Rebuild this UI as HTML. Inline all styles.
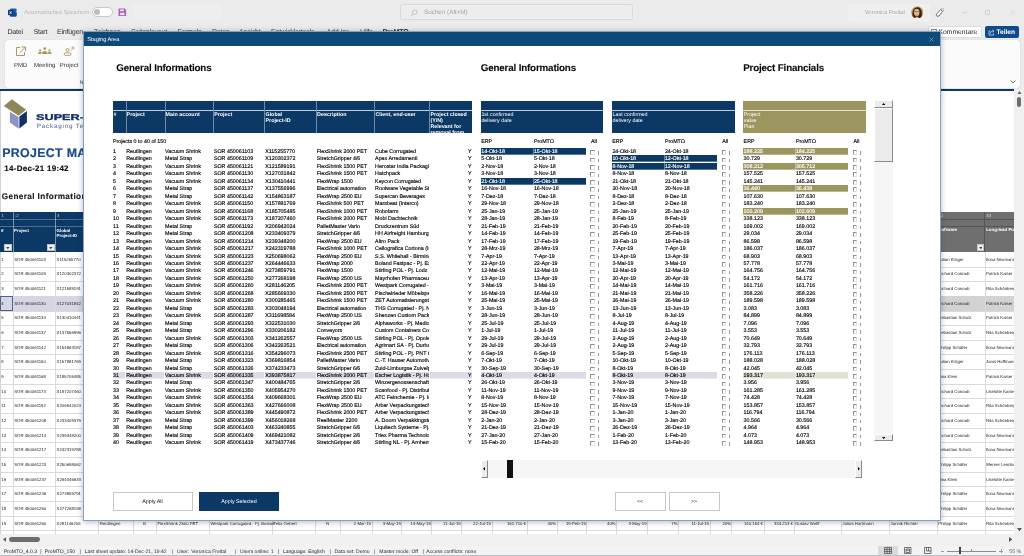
<!DOCTYPE html>
<html><head><meta charset="utf-8"><title>Staging Area</title>
<style>
*{box-sizing:border-box;margin:0;padding:0}
html,body{width:1024px;height:556px;overflow:hidden;background:#ebebeb;font-family:"Liberation Sans",sans-serif;text-rendering:geometricPrecision;}
body{position:relative}
.a{position:absolute;white-space:nowrap;overflow:hidden}
.t{position:absolute;white-space:nowrap;line-height:1}
/* excel chrome */
.mn{font-size:7.1px;letter-spacing:-.26px;color:#333;top:29.4px}
/* dialog */
#dlg{position:absolute;left:84px;top:32.2px;width:856px;height:487.5px;background:#fff;box-shadow:0 0 0 1px #8aa0c0,0 1px 6px 1px rgba(40,60,90,.36);}
#dlg .tb{position:absolute;left:0;top:0;width:100%;height:14.3px;background:#0d4a7a;color:#fff;font-size:5.6px;line-height:17px;padding-left:3.3px}
.h1{font-weight:bold;font-size:9.8px;letter-spacing:-.17px;color:#0a0a0a;-webkit-text-stroke:.1px #0a0a0a}
.hd{position:absolute;top:68.5px;height:32.1px;overflow:hidden;color:#fff;font-size:5.33px;line-height:6px;}
.hd:before{content:"";position:absolute;left:0;right:0;top:9.6px;height:.6px;background:rgba(255,255,255,.75)}
.hd span{position:absolute;left:.5px;top:11.3px;white-space:pre}
.hb{font-weight:bold}
.r{position:absolute;left:0;height:7.47px;font-size:5.33px;line-height:9px;color:#000;white-space:nowrap;-webkit-text-stroke:.14px currentColor}
.c{position:absolute;top:0;height:7.47px;overflow:hidden;white-space:nowrap;padding-left:.3px;background-repeat:no-repeat;background-size:100% 6.7px}
.sel .c{background-image:linear-gradient(#dcdce8,#dcdce8)}
.nv{background-image:linear-gradient(#0b3864,#0b3864) !important;color:#fff}
.kh{background-image:linear-gradient(#9c9560,#9c9560) !important;color:#fff}
.dv{box-shadow:inset 1px 0 rgba(255,255,255,.38)}
.pk{background-image:linear-gradient(#e2e2d4,#e2e2d4) !important}
.cb{position:absolute;width:4.6px;height:4.6px;border:.6px solid #909090;border-right-color:#e4e4e4;border-bottom-color:#e4e4e4;background:#fff;top:2.1px}
.ar{position:absolute;top:3.2px;width:1px;height:3.5px;background:#9a95aa}
.btn{position:absolute;top:459.9px;height:18.9px;border:.6px solid #c6c6c6;background:#fff;font-size:5.33px;line-height:18.6px;text-align:center;color:#111}
/* sheet */
.sh{font-size:4.3px;color:#222;line-height:1}
.gl{position:absolute;background:#dadada}
</style></head><body>

<div class="a" style="left:0;top:0;width:1024px;height:24px;background:#ebebeb"></div>
<svg class="a" style="left:7.5px;top:7.5px" width="9" height="9" viewBox="0 0 18 18"><rect x="4" y="1" width="13" height="16" rx="1.5" fill="#1d62ae"/><rect x="4" y="9" width="13" height="8" rx="1.5" fill="#134a8e"/><rect x="0" y="3.500" width="11" height="11" rx="1.5" fill="#0d3c78"/><text x="5" y="12" font-size="8" font-weight="bold" fill="#fff" text-anchor="middle" font-family="Liberation Sans, sans-serif">X</text></svg>
<div class="t" style="left:24.2px;top:11px;font-size:5.75px;color:#b8b8b8">Automatisches Speichern</div>
<div class="a" style="left:92px;top:7.1px;width:20.8px;height:9.8px;border-radius:5px;background:#fff;border:.7px solid #c8c8c8"></div>
<div class="a" style="left:94px;top:9.1px;width:5.8px;height:5.8px;border-radius:3px;background:#bcbcbc"></div>
<svg class="a" style="left:118px;top:7.8px" width="8.6" height="8.6" viewBox="0 0 18 18"><path d="M1 2a1 1 0 0 1 1-1h12l3 3v12a1 1 0 0 1-1 1H2a1 1 0 0 1-1-1z" fill="#b25cc2"/><rect x="4.500" y="3" width="8" height="3.600" fill="#f0e4f4"/><rect x="4.500" y="10" width="9" height="5" fill="#f0e4f4"/></svg>
<div class="a" style="left:133px;top:3.5px;width:88.3px;height:15px;background:#eeeeee;border-radius:2px"></div>
<div class="a" style="left:400px;top:4px;width:232.5px;height:15.5px;background:#ededed;border:.6px solid #dadada;border-radius:2px"></div>
<svg class="a" style="left:409.8px;top:8.6px" width="8" height="8" viewBox="0 0 16 16"><circle cx="9.5" cy="6.5" r="4.5" fill="none" stroke="#b0b0b0" stroke-width="1.3"/><path d="M6.2 9.8L1.5 14.5" stroke="#b0b0b0" stroke-width="1.4"/></svg>
<div class="t" style="left:424px;top:10.3px;font-size:6.3px;color:#a4a4a4">Suchen (Alt+M)</div>
<div class="a" style="left:848px;top:4px;width:82px;height:17.5px;background:#efefef;border-radius:2px"></div>
<div class="t" style="left:864.8px;top:10.6px;font-size:5.75px;color:#a6a6a6">Veronica Freital</div>
<svg class="a" style="left:910.6px;top:5.7px" width="12.6" height="12.6" viewBox="0 0 26 26"><defs><clipPath id="av"><circle cx="13" cy="13" r="12.7"/></clipPath></defs><g clip-path="url(#av)"><rect width="26" height="26" fill="#c9a268"/><path d="M4 26C1 14 4 3 13 2.500C21 2 25 12 21 26z" fill="#3a2618"/><ellipse cx="11.800" cy="13.500" rx="5.600" ry="7.600" fill="#e6b48c"/><path d="M5.500 11.500h12" stroke="#6a5a52" stroke-width="1.300"/><path d="M8 26c1-5 7-5 9 0z" fill="#e0a878"/><path d="M9 18.500q2.500 1.500 5 0" stroke="#c4553a" stroke-width="1.200" fill="none"/></g></svg>
<svg class="a" style="left:934.8px;top:7.8px" width="9" height="9" viewBox="0 0 18 18"><path d="M2.500 14.500l1.500 2 4-.5 7-9.500-4-3.500-7 8.500z" fill="#fff" stroke="#3a3a3a" stroke-width="1.400" stroke-linejoin="round"/><circle cx="13.500" cy="1.600" r="1.100" fill="#5a9ee0"/><circle cx="16.500" cy="1.600" r="1.100" fill="#5a9ee0"/><circle cx="16.500" cy="4.800" r="1.100" fill="#5a9ee0"/></svg>
<div class="a" style="left:961.8px;top:11.6px;width:5px;height:.7px;background:#d2d2d2"></div>
<div class="a" style="left:985.4px;top:9.8px;width:5px;height:5px;border:.6px solid #cdcdcd;border-radius:1.3px"></div>
<svg class="a" style="left:1009.6px;top:9.6px" width="5.4" height="5.4" viewBox="0 0 12 12"><path d="M1 1l10 10M11 1L1 11" stroke="#cbcbcb" stroke-width="1.3"/></svg>
<div class="t mn" style="left:7.5px">Datei</div>
<div class="t mn" style="left:33.5px">Start</div>
<div class="t mn" style="left:57px">Einfügen</div>
<div class="t mn" style="left:93.5px">Zeichnen</div>
<div class="t mn" style="left:131px">Seitenlayout</div>
<div class="t mn" style="left:177.5px">Formeln</div>
<div class="t mn" style="left:212px">Daten</div>
<div class="t mn" style="left:239px">Ansicht</div>
<div class="t mn" style="left:271px">Entwicklertools</div>
<div class="t mn" style="left:326.5px">Add-Ins</div>
<div class="t mn" style="left:360px">Hilfe</div>
<div class="t mn" style="left:382.5px;font-weight:bold;color:#111">ProMTO</div>
<div class="a" style="left:928px;top:25.5px;width:53.5px;height:12px;background:#fff;border:.6px solid #dcdcdc;border-radius:2px"></div>
<svg class="a" style="left:931px;top:29.3px" width="6" height="6" viewBox="0 0 12 12"><path d="M1 1h10v7H5l-2 2V8H1z" fill="none" stroke="#333" stroke-width="1.2"/></svg>
<div class="t" style="left:938.5px;top:29.7px;font-size:6.75px;color:#222">Kommentare</div>
<div class="a" style="left:985px;top:25.5px;width:33.5px;height:12px;background:#0f4a8c;border-radius:2px"></div>
<svg class="a" style="left:987.5px;top:28.8px" width="7" height="7" viewBox="0 0 14 14"><path d="M5 4H2v8h9V9" fill="none" stroke="#fff" stroke-width="1.2"/><path d="M5 9c0-3 2-5 6-5M9 1.5L11.8 4 9 6.5" fill="none" stroke="#fff" stroke-width="1.2"/></svg>
<div class="t" style="left:996.5px;top:29.5px;font-size:6.6px;color:#fff;font-weight:bold">Teilen</div>
<div class="a" style="left:5px;top:39.5px;width:1014.5px;height:48px;background:#fbfbfb;border-radius:3px;box-shadow:0 0 1px rgba(0,0,0,.25)"></div>
<svg class="a" style="left:14.5px;top:45.5px" width="12" height="11" viewBox="0 0 24 22"><path d="M10 3H3v16h16v-7" fill="none" stroke="#a89a5c" stroke-width="2"/><path d="M13 2h8v8M21 2L10 13" fill="none" stroke="#a89a5c" stroke-width="2"/></svg>
<svg class="a" style="left:38px;top:46.8px" width="13.6" height="7.4" viewBox="0 0 27.2 14.8"><circle cx="13.6" cy="3.2" r="2.9" fill="#a89a5c"/><path d="M7.6 14.8c0-9 12-9 12 0z" fill="#a89a5c"/><circle cx="4.2" cy="6.6" r="2" fill="#a89a5c"/><circle cx="23" cy="6.6" r="2" fill="#a89a5c"/><path d="M0 14.8c0-6.4 6.4-6.6 7.4-4.2-.8 1-1.2 2.400-1.200 4.200z" fill="#a89a5c"/><path d="M27.2 14.8c0-6.4-6.400-6.600-7.400-4.200.8 1 1.200 2.400 1.200 4.200z" fill="#a89a5c"/></svg>
<svg class="a" style="left:63px;top:45.5px" width="13" height="11" viewBox="0 0 26 22"><circle cx="9.2" cy="8" r="3" fill="none" stroke="#a89a5c" stroke-width="1.8"/><rect x="2.400" y="13.8" width="13.6" height="5" rx="2.500" fill="none" stroke="#a89a5c" stroke-width="1.8"/><circle cx="20" cy="4.200" r="2.300" fill="none" stroke="#a89a5c" stroke-width="1.500"/><circle cx="16.6" cy="9.4" r="1.100" fill="#a89a5c"/></svg>
<div class="t" style="left:0.6000000000000014px;width:40px;text-align:center;top:63.3px;font-size:6px;color:#333">PMD</div>
<div class="t" style="left:24.700000000000003px;width:40px;text-align:center;top:63.3px;font-size:6px;color:#333">Meeting</div>
<div class="t" style="left:49.2px;width:40px;text-align:center;top:63.3px;font-size:6px;color:#333">Project</div>
<div class="t" style="left:79.8px;top:81.3px;font-size:5.2px;color:#333">Navigation</div>
<svg class="a" style="left:1009.5px;top:79.5px" width="6" height="4" viewBox="0 0 12 8"><path d="M1 1l5 5 5-5" fill="none" stroke="#333" stroke-width="1.4"/></svg>
<div class="a" style="left:0;top:88.8px;width:1014px;height:445px;background:#fff"></div>
<div class="a" style="left:0;top:88.8px;width:1014px;height:2.1px;background:#0b3864"></div>
<div class="a" style="left:0;top:91px;width:.9px;height:443px;background:#d2d2d2"></div>
<svg class="a" style="left:0;top:95px" width="84" height="40" viewBox="0 0 84 40"><polygon points="3.8,10.9 11.9,4.300 26.1,14.8 18.6,20.75" fill="#8e8658"/><polygon points="9.9,16.8 18.6,21.9 18.6,33.8 9.9,27.5" fill="#8d94c0"/><polygon points="19.4,21.5 26.9,16 26.9,27.5 19.4,33.6" fill="#10306a"/></svg>
<div class="t" style="left:36.1px;top:112.6px;font-size:8.4px;font-weight:bold;color:#12306a;-webkit-text-stroke:.35px #12306a;transform-origin:0 0;transform:scaleX(1.515)">SUPER-PACK</div>
<div class="t" style="left:36.7px;top:123.5px;font-size:6.3px;color:#4a5f98;letter-spacing:.8px">Packaging Technology</div>
<div class="t" style="left:2.3px;top:146.8px;font-size:12.4px;font-weight:bold;color:#1b4a88;letter-spacing:.3px;-webkit-text-stroke:.2px #1b4a88">PROJECT MANAGEMENT</div>
<div class="t" style="left:4.3px;top:165.1px;font-size:8px;letter-spacing:.27px;font-weight:bold;color:#111;-webkit-text-stroke:.15px #111">14-Dec-21 19:42</div>
<div class="t" style="left:1.8px;top:192.6px;font-size:8.2px;letter-spacing:.38px;font-weight:bold;color:#1a1a1a;-webkit-text-stroke:.15px #1a1a1a">General Information</div>
<div class="a" style="left:0;top:212px;width:84px;height:40px;background:#0b3864"></div>
<div class="a" style="left:0;top:219.4px;width:84px;height:.6px;background:rgba(255,255,255,.28)"></div>
<div class="a" style="left:0;top:225.8px;width:84px;height:.6px;background:rgba(255,255,255,.28)"></div>
<div class="a" style="left:12.7px;top:212px;width:.6px;height:40px;background:rgba(255,255,255,.45)"></div>
<div class="a" style="left:55.2px;top:212px;width:.6px;height:40px;background:rgba(255,255,255,.45)"></div>
<div class="t sh" style="left:1.5px;top:214px;color:#c8d4e4">1</div>
<div class="t sh" style="left:14px;top:214px;color:#c8d4e4">↓2</div>
<div class="t sh" style="left:57px;top:214px;color:#c8d4e4">3</div>
<div class="t sh" style="left:1px;top:227.6px;color:#fff;font-weight:bold;line-height:5.6px;font-size:4.4px">#</div>
<div class="t sh" style="left:14px;top:227.6px;color:#fff;font-weight:bold;line-height:5.6px;font-size:4.4px">Project</div>
<div class="t sh" style="left:56.5px;top:227.6px;color:#fff;font-weight:bold;line-height:5.6px;font-size:4.4px">Global<br>Project-ID</div>
<div class="a" style="left:4.4px;top:244.2px;width:7.6px;height:7.2px;background:#eeeeee;border:.5px solid #c4c4c4"></div>
<svg class="a" style="left:6.4px;top:247.0px" width="3.6" height="2.2" viewBox="0 0 8 5"><path d="M0 0h8L4 5z" fill="#444"/></svg>
<div class="a" style="left:47.4px;top:244.2px;width:7.6px;height:7.2px;background:#eeeeee;border:.5px solid #c4c4c4"></div>
<svg class="a" style="left:49.4px;top:247.0px" width="3.6" height="2.2" viewBox="0 0 8 5"><path d="M0 0h8L4 5z" fill="#444"/></svg>
<div class="gl" style="left:0;top:266.55px;width:1014px;height:.6px"></div>
<div class="gl" style="left:0;top:281.20px;width:1014px;height:.6px"></div>
<div class="gl" style="left:0;top:295.85px;width:1014px;height:.6px"></div>
<div class="a" style="left:0;top:296.15px;width:937px;height:14.65px;background:#d6d6e2"></div>
<div class="a" style="left:937px;top:296.15px;width:77.2px;height:14.65px;background:#d2d2d2"></div>
<div class="gl" style="left:0;top:310.50px;width:1014px;height:.6px"></div>
<div class="gl" style="left:0;top:325.15px;width:1014px;height:.6px"></div>
<div class="gl" style="left:0;top:339.80px;width:1014px;height:.6px"></div>
<div class="gl" style="left:0;top:354.45px;width:1014px;height:.6px"></div>
<div class="gl" style="left:0;top:369.10px;width:1014px;height:.6px"></div>
<div class="gl" style="left:0;top:383.75px;width:1014px;height:.6px"></div>
<div class="gl" style="left:0;top:398.40px;width:1014px;height:.6px"></div>
<div class="gl" style="left:0;top:413.05px;width:1014px;height:.6px"></div>
<div class="gl" style="left:0;top:427.70px;width:1014px;height:.6px"></div>
<div class="gl" style="left:0;top:442.35px;width:1014px;height:.6px"></div>
<div class="gl" style="left:0;top:457.00px;width:1014px;height:.6px"></div>
<div class="gl" style="left:0;top:471.65px;width:1014px;height:.6px"></div>
<div class="gl" style="left:0;top:486.30px;width:1014px;height:.6px"></div>
<div class="gl" style="left:0;top:500.95px;width:1014px;height:.6px"></div>
<div class="gl" style="left:0;top:515.60px;width:1014px;height:.6px"></div>
<div class="gl" style="left:0;top:530.25px;width:1014px;height:.6px"></div>
<div class="gl" style="left:0;top:544.90px;width:1014px;height:.6px"></div>
<div class="gl" style="left:12.7px;top:252.2px;width:.6px;height:281.8px"></div>
<div class="gl" style="left:55.2px;top:252.2px;width:.6px;height:281.8px"></div>
<div class="gl" style="left:98.3px;top:252.2px;width:.6px;height:281.8px"></div>
<div class="gl" style="left:132.8px;top:252.2px;width:.6px;height:281.8px"></div>
<div class="gl" style="left:156px;top:252.2px;width:.6px;height:281.8px"></div>
<div class="gl" style="left:209.2px;top:252.2px;width:.6px;height:281.8px"></div>
<div class="gl" style="left:272.2px;top:252.2px;width:.6px;height:281.8px"></div>
<div class="gl" style="left:315.4px;top:252.2px;width:.6px;height:281.8px"></div>
<div class="gl" style="left:339.6px;top:252.2px;width:.6px;height:281.8px"></div>
<div class="gl" style="left:371.5px;top:252.2px;width:.6px;height:281.8px"></div>
<div class="gl" style="left:401.4px;top:252.2px;width:.6px;height:281.8px"></div>
<div class="gl" style="left:431.3px;top:252.2px;width:.6px;height:281.8px"></div>
<div class="gl" style="left:461.2px;top:252.2px;width:.6px;height:281.8px"></div>
<div class="gl" style="left:491.7px;top:252.2px;width:.6px;height:281.8px"></div>
<div class="gl" style="left:526.6px;top:252.2px;width:.6px;height:281.8px"></div>
<div class="gl" style="left:556.5px;top:252.2px;width:.6px;height:281.8px"></div>
<div class="gl" style="left:586.3px;top:252.2px;width:.6px;height:281.8px"></div>
<div class="gl" style="left:616.2px;top:252.2px;width:.6px;height:281.8px"></div>
<div class="gl" style="left:647.1px;top:252.2px;width:.6px;height:281.8px"></div>
<div class="gl" style="left:678px;top:252.2px;width:.6px;height:281.8px"></div>
<div class="gl" style="left:709.6px;top:252.2px;width:.6px;height:281.8px"></div>
<div class="gl" style="left:731.4px;top:252.2px;width:.6px;height:281.8px"></div>
<div class="gl" style="left:763.6px;top:252.2px;width:.6px;height:281.8px"></div>
<div class="gl" style="left:793.5px;top:252.2px;width:.6px;height:281.8px"></div>
<div class="gl" style="left:841.2px;top:252.2px;width:.6px;height:281.8px"></div>
<div class="gl" style="left:889.3px;top:252.2px;width:.6px;height:281.8px"></div>
<div class="gl" style="left:937px;top:252.2px;width:.6px;height:281.8px"></div>
<div class="gl" style="left:984.5px;top:252.2px;width:.6px;height:281.8px"></div>
<div class="a" style="left:0;top:295.75px;width:13.3px;height:15.450000000000001px;border:.9px solid #4a628e"></div>
<div class="t sh" style="left:1.3px;top:257.80px">1</div>
<div class="t sh" style="left:14.2px;top:257.80px">SOR 450061103</div>
<div class="t sh" style="left:56.6px;top:257.80px">X115255770</div>
<div class="t sh" style="left:938.3px;top:257.80px">Julian Krüger</div>
<div class="a sh" style="left:986px;width:28px;top:257.80px">Ilona Neumann</div>
<div class="t sh" style="left:1.3px;top:272.45px">2</div>
<div class="t sh" style="left:14.2px;top:272.45px">SOR 450061109</div>
<div class="t sh" style="left:56.6px;top:272.45px">X120302372</div>
<div class="t sh" style="left:938.3px;top:272.45px">Richard Conradi</div>
<div class="a sh" style="left:986px;width:28px;top:272.45px">Patrick Kaiser</div>
<div class="t sh" style="left:1.3px;top:287.10px">3</div>
<div class="t sh" style="left:14.2px;top:287.10px">SOR 450061121</div>
<div class="t sh" style="left:56.6px;top:287.10px">X121589191</div>
<div class="t sh" style="left:938.3px;top:287.10px">Richard Conradi</div>
<div class="a sh" style="left:986px;width:28px;top:287.10px">Rita Schönberg</div>
<div class="t sh" style="left:1.3px;top:301.75px">4</div>
<div class="t sh" style="left:14.2px;top:301.75px">SOR 450061130</div>
<div class="t sh" style="left:56.6px;top:301.75px">X127031842</div>
<div class="t sh" style="left:938.3px;top:301.75px">Richard Conradi</div>
<div class="a sh" style="left:986px;width:28px;top:301.75px">Patrick Kaiser</div>
<div class="t sh" style="left:1.3px;top:316.40px">5</div>
<div class="t sh" style="left:14.2px;top:316.40px">SOR 450061134</div>
<div class="t sh" style="left:56.6px;top:316.40px">X130410441</div>
<div class="t sh" style="left:938.3px;top:316.40px">Sebastian Scholz</div>
<div class="a sh" style="left:986px;width:28px;top:316.40px">Patrick Kaiser</div>
<div class="t sh" style="left:1.3px;top:331.05px">6</div>
<div class="t sh" style="left:14.2px;top:331.05px">SOR 450061137</div>
<div class="t sh" style="left:56.6px;top:331.05px">X137556996</div>
<div class="t sh" style="left:938.3px;top:331.05px">Sebastian Scholz</div>
<div class="a sh" style="left:986px;width:28px;top:331.05px">Rita Schönberg</div>
<div class="t sh" style="left:1.3px;top:345.70px">7</div>
<div class="t sh" style="left:14.2px;top:345.70px">SOR 450061142</div>
<div class="t sh" style="left:56.6px;top:345.70px">X154863187</div>
<div class="t sh" style="left:938.3px;top:345.70px">Philipp Schäfer</div>
<div class="a sh" style="left:986px;width:28px;top:345.70px">Ilona Neumann</div>
<div class="t sh" style="left:1.3px;top:360.35px">8</div>
<div class="t sh" style="left:14.2px;top:360.35px">SOR 450061150</div>
<div class="t sh" style="left:56.6px;top:360.35px">X157881769</div>
<div class="t sh" style="left:938.3px;top:360.35px">Julian Krüger</div>
<div class="a sh" style="left:986px;width:28px;top:360.35px">Janis Hoffmann</div>
<div class="t sh" style="left:1.3px;top:375.00px">9</div>
<div class="t sh" style="left:14.2px;top:375.00px">SOR 450061168</div>
<div class="t sh" style="left:56.6px;top:375.00px">X185705485</div>
<div class="t sh" style="left:938.3px;top:375.00px">Lina Klein</div>
<div class="a sh" style="left:986px;width:28px;top:375.00px">Patrick Kaiser</div>
<div class="t sh" style="left:1.3px;top:389.65px">10</div>
<div class="t sh" style="left:14.2px;top:389.65px">SOR 450061173</div>
<div class="t sh" style="left:56.6px;top:389.65px">X187207460</div>
<div class="t sh" style="left:938.3px;top:389.65px">Richard Conradi</div>
<div class="a sh" style="left:986px;width:28px;top:389.65px">Liselotte Kaiser</div>
<div class="t sh" style="left:1.3px;top:404.30px">11</div>
<div class="t sh" style="left:14.2px;top:404.30px">SOR 450061192</div>
<div class="t sh" style="left:56.6px;top:404.30px">X206942024</div>
<div class="t sh" style="left:938.3px;top:404.30px">Richard Conradi</div>
<div class="a sh" style="left:986px;width:28px;top:404.30px">Rita Schönberg</div>
<div class="t sh" style="left:1.3px;top:418.95px">12</div>
<div class="t sh" style="left:14.2px;top:418.95px">SOR 450061208</div>
<div class="t sh" style="left:56.6px;top:418.95px">X233409379</div>
<div class="t sh" style="left:938.3px;top:418.95px">Richard Conradi</div>
<div class="a sh" style="left:986px;width:28px;top:418.95px">Rita Schönberg</div>
<div class="t sh" style="left:1.3px;top:433.60px">13</div>
<div class="t sh" style="left:14.2px;top:433.60px">SOR 450061214</div>
<div class="t sh" style="left:56.6px;top:433.60px">X239348200</div>
<div class="t sh" style="left:938.3px;top:433.60px">Richard Conradi</div>
<div class="a sh" style="left:986px;width:28px;top:433.60px">Ilona Neumann</div>
<div class="t sh" style="left:1.3px;top:448.25px">14</div>
<div class="t sh" style="left:14.2px;top:448.25px">SOR 450061217</div>
<div class="t sh" style="left:56.6px;top:448.25px">X242319788</div>
<div class="t sh" style="left:938.3px;top:448.25px">Sebastian Scholz</div>
<div class="a sh" style="left:986px;width:28px;top:448.25px">Ilona Neumann</div>
<div class="t sh" style="left:1.3px;top:462.90px">15</div>
<div class="t sh" style="left:14.2px;top:462.90px">SOR 450061223</div>
<div class="t sh" style="left:56.6px;top:462.90px">X250698062</div>
<div class="t sh" style="left:938.3px;top:462.90px">Philipp Schäfer</div>
<div class="a sh" style="left:986px;width:28px;top:462.90px">Werner Leimbach</div>
<div class="t sh" style="left:1.3px;top:477.55px">16</div>
<div class="t sh" style="left:14.2px;top:477.55px">SOR 450061237</div>
<div class="t sh" style="left:56.6px;top:477.55px">X264446633</div>
<div class="t sh" style="left:938.3px;top:477.55px">Lina Klein</div>
<div class="a sh" style="left:986px;width:28px;top:477.55px">Liselotte Kaiser</div>
<div class="t sh" style="left:1.3px;top:492.20px">17</div>
<div class="t sh" style="left:14.2px;top:492.20px">SOR 450061246</div>
<div class="t sh" style="left:56.6px;top:492.20px">X273859791</div>
<div class="t sh" style="left:938.3px;top:492.20px">Philipp Schäfer</div>
<div class="a sh" style="left:986px;width:28px;top:492.20px">Ilona Neumann</div>
<div class="t sh" style="left:1.3px;top:506.85px">18</div>
<div class="t sh" style="left:14.2px;top:506.85px">SOR 450061250</div>
<div class="t sh" style="left:56.6px;top:506.85px">X277268198</div>
<div class="t sh" style="left:938.3px;top:506.85px">Philipp Schäfer</div>
<div class="a sh" style="left:986px;width:28px;top:506.85px">Ilona Neumann</div>
<div class="t sh" style="left:1.3px;top:521.50px">19</div>
<div class="t sh" style="left:14.2px;top:521.50px">SOR 450061260</div>
<div class="t sh" style="left:56.6px;top:521.50px">X281146205</div>
<div class="t sh" style="left:938.3px;top:521.50px">Philipp Schäfer</div>
<div class="a sh" style="left:986px;width:28px;top:521.50px">Rita Schönberg</div>
<div class="t sh" style="left:99.8px;top:521.50px">Reutlingen</div>
<div class="t sh" style="left:157.5px;top:521.50px">FlexShrink 2500 PET</div>
<div class="t sh" style="left:210.4px;top:521.50px">Westpark Corrugated - Pj. Boston</div>
<div class="t sh" style="left:273.3px;top:521.50px">Felix Gebert</div>
<div class="t sh" style="left:795px;top:521.50px">Gustav Wolff</div>
<div class="t sh" style="left:842.6px;top:521.50px">Julius Hartmann</div>
<div class="t sh" style="left:890.6px;top:521.50px">Jannik Richter</div>
<div class="t sh" style="left:139.4px;width:10px;text-align:center;top:521.50px">B</div>
<div class="t sh" style="left:322.5px;width:10px;text-align:center;top:521.50px">N</div>
<div class="t sh" style="left:331px;width:40px;text-align:right;top:521.50px">2-Mar-19</div>
<div class="t sh" style="left:360.9px;width:40px;text-align:right;top:521.50px">3-May-19</div>
<div class="t sh" style="left:390.8px;width:40px;text-align:right;top:521.50px">14-May-19</div>
<div class="t sh" style="left:420.7px;width:40px;text-align:right;top:521.50px">11-Jul-19</div>
<div class="t sh" style="left:451px;width:40px;text-align:right;top:521.50px">22-Jul-19</div>
<div class="t sh" style="left:486px;width:40px;text-align:right;top:521.50px">161.710 €</div>
<div class="t sh" style="left:516px;width:40px;text-align:right;top:521.50px">40%</div>
<div class="t sh" style="left:545.8px;width:40px;text-align:right;top:521.50px">19-Feb-19</div>
<div class="t sh" style="left:575.7px;width:40px;text-align:right;top:521.50px">40%</div>
<div class="t sh" style="left:606.6px;width:40px;text-align:right;top:521.50px">3-May-19</div>
<div class="t sh" style="left:637.5px;width:40px;text-align:right;top:521.50px">7%</div>
<div class="t sh" style="left:669px;width:40px;text-align:right;top:521.50px">11-Jul-19</div>
<div class="t sh" style="left:691px;width:40px;text-align:right;top:521.50px">20%</div>
<div class="t sh" style="left:723px;width:40px;text-align:right;top:521.50px">140.154 €</div>
<div class="t sh" style="left:753px;width:40px;text-align:right;top:521.50px">334.213 €</div>
<div class="a" style="left:937px;top:212px;width:77.2px;height:40px;background:#6f6f6f"></div>
<div class="a" style="left:937px;top:219.4px;width:77.2px;height:.6px;background:#555"></div>
<div class="a" style="left:937px;top:225.8px;width:77.2px;height:.6px;background:#555"></div>
<div class="a" style="left:984.3px;top:212px;width:.6px;height:40px;background:#555"></div>
<div class="t sh" style="left:938.5px;top:214px;color:#d8d8d8">32</div><div class="t sh" style="left:986.3px;top:214px;color:#d8d8d8">33</div>
<div class="t sh" style="left:938.5px;top:227.8px;color:#fff;font-weight:bold;font-size:4.4px">Software</div><div class="a sh" style="left:986.2px;width:28px;top:227.8px;color:#fff;font-weight:bold;font-size:4.4px">Long-lead Purchasing</div>
<div class="a" style="left:976.6px;top:244.2px;width:7.6px;height:7.2px;background:#eeeeee;border:.5px solid #c4c4c4"></div>
<svg class="a" style="left:978.6px;top:247.0px" width="3.6" height="2.2" viewBox="0 0 8 5"><path d="M0 0h8L4 5z" fill="#444"/></svg>
<div class="a" style="left:1014.2px;top:88.6px;width:10px;height:445.5px;background:#f0f0f0"></div>
<svg class="a" style="left:1016.7px;top:90.8px" width="5" height="3.4" viewBox="0 0 10 7"><path d="M0 7L5 0l5 7z" fill="#6a6a6a"/></svg>
<div class="a" style="left:1017.3px;top:96.6px;width:3.6px;height:10px;border-radius:2px;background:#6e6e6e"></div>
<svg class="a" style="left:1016.7px;top:527.8px" width="5" height="3.4" viewBox="0 0 10 7"><path d="M0 0h10L5 7z" fill="#555"/></svg>
<div class="a" style="left:0;top:534px;width:1024px;height:11.5px;background:#f0f0f0"></div>
<svg class="a" style="left:3px;top:537.2px" width="3.4" height="5" viewBox="0 0 7 10"><path d="M7 0v10L0 5z" fill="#555"/></svg>
<div class="a" style="left:9.3px;top:537.3px;width:31.2px;height:4.8px;border-radius:2.4px;background:#6e6e6e"></div>
<svg class="a" style="left:1008.5px;top:537.2px" width="3.4" height="5" viewBox="0 0 7 10"><path d="M0 0v10l7-5z" fill="#555"/></svg>
<div class="a" style="left:0;top:545.5px;width:1024px;height:10.5px;background:#f3f3f3"></div>
<div class="t" style="left:4.0px;top:549.9px;font-size:5.05px;color:#2a2a2a">ProMTO_4.0.3</div>
<div class="t" style="left:40.3px;top:549.9px;font-size:5.05px;color:#2a2a2a">|</div>
<div class="t" style="left:44.8px;top:549.9px;font-size:5.05px;color:#2a2a2a">ProMTO_150</div>
<div class="t" style="left:79.5px;top:549.9px;font-size:5.05px;color:#2a2a2a">|</div>
<div class="t" style="left:84.7px;top:549.9px;font-size:5.05px;color:#2a2a2a">Last sheet update: 14-Dec-21, 19:42</div>
<div class="t" style="left:172.1px;top:549.9px;font-size:5.05px;color:#2a2a2a">|</div>
<div class="t" style="left:177px;top:549.9px;font-size:5.05px;color:#2a2a2a">User:</div>
<div class="t" style="left:191.2px;top:549.9px;font-size:5.05px;color:#2a2a2a">Veronica Freital</div>
<div class="t" style="left:234.8px;top:549.9px;font-size:5.05px;color:#2a2a2a">|</div>
<div class="t" style="left:240px;top:549.9px;font-size:5.05px;color:#2a2a2a">Users online: 1</div>
<div class="t" style="left:278px;top:549.9px;font-size:5.05px;color:#2a2a2a">|</div>
<div class="t" style="left:282.9px;top:549.9px;font-size:5.05px;color:#2a2a2a">Language: English</div>
<div class="t" style="left:329.5px;top:549.9px;font-size:5.05px;color:#2a2a2a">|</div>
<div class="t" style="left:334.4px;top:549.9px;font-size:5.05px;color:#2a2a2a">Data set: Demo</div>
<div class="t" style="left:374px;top:549.9px;font-size:5.05px;color:#2a2a2a">|</div>
<div class="t" style="left:379.2px;top:549.9px;font-size:5.05px;color:#2a2a2a">Master mode: Off</div>
<div class="t" style="left:422.5px;top:549.9px;font-size:5.05px;color:#2a2a2a">|</div>
<div class="t" style="left:426.3px;top:549.9px;font-size:5.05px;color:#2a2a2a">Access conflicts: none</div>
<div class="a" style="left:878.3px;top:545.6px;width:19.5px;height:9.6px;background:#dadada"></div>
<svg class="a" style="left:883.5px;top:547px" width="8" height="7" viewBox="0 0 16 14"><path d="M1 1h14v12H1zM1 5h14M1 9h14M6 1v12M11 1v12" fill="none" stroke="#333" stroke-width="1.2"/></svg>
<svg class="a" style="left:904px;top:547px" width="7.5" height="7" viewBox="0 0 15 14"><path d="M1 1h13v12H1z M4 4h7v7H4z M4 6.5h7" fill="none" stroke="#333" stroke-width="1.3"/></svg>
<svg class="a" style="left:924px;top:547px" width="7.5" height="7" viewBox="0 0 15 14"><path d="M1 1h13v12H1z M5 1v7h9 M9 1v7" fill="none" stroke="#333" stroke-width="1.3"/></svg>
<div class="a" style="left:940.6px;top:550.6px;width:3.4px;height:.6px;background:#9a9a9a"></div>
<div class="a" style="left:947px;top:550.6px;width:48.5px;height:.6px;background:#8c8c8c"></div>
<div class="a" style="left:970.8px;top:549.3px;width:.6px;height:3.2px;background:#8c8c8c"></div>
<div class="a" style="left:958.8px;top:547.4px;width:1.8px;height:7px;background:#444"></div>
<div class="a" style="left:998.8px;top:550.6px;width:4px;height:.6px;background:#9a9a9a"></div><div class="a" style="left:1000.5px;top:548.9px;width:.6px;height:4px;background:#9a9a9a"></div>
<div class="t" style="left:1009.2px;top:550.2px;font-size:5.3px;color:#555">55 %</div>
<div class="a" style="left:0;top:555.2px;width:1024px;height:.8px;background:#b8bfcc"></div>
<div id="dlg"><div class="tb">Staging Area</div>
<svg class="a" style="left:845.3px;top:4.8px" width="5" height="5" viewBox="0 0 10 10"><path d="M1 1l8 8M9 1L1 9" stroke="#9fb8d4" stroke-width="1.1"/></svg>
<div class="t h1" style="left:32.3px;top:32.0px">General Informations</div>
<div class="t h1" style="left:396.8px;top:32.0px">General Informations</div>
<div class="t h1" style="left:659.2px;top:32.0px">Project Financials</div>
<div class="hd hb" style="left:28.9px;width:13.1px;background:#0b3864;"><span style="">#</span></div>
<div class="hd hb" style="left:41.5px;width:39.5px;background:#0b3864;border-left:1px solid rgba(255,255,255,.42);"><span style="margin-left:-.4px">Project</span></div>
<div class="hd hb" style="left:80.5px;width:49.1px;background:#0b3864;border-left:1px solid rgba(255,255,255,.42);"><span style="margin-left:-.4px">Main account</span></div>
<div class="hd hb" style="left:129.1px;width:51.8px;background:#0b3864;border-left:1px solid rgba(255,255,255,.42);"><span style="margin-left:-.4px">Project</span></div>
<div class="hd hb" style="left:180.4px;width:52.1px;background:#0b3864;border-left:1px solid rgba(255,255,255,.42);"><span style="margin-left:-.4px">Global
Project-ID</span></div>
<div class="hd hb" style="left:232.0px;width:58.8px;background:#0b3864;border-left:1px solid rgba(255,255,255,.42);"><span style="margin-left:-.4px">Description</span></div>
<div class="hd hb" style="left:290.3px;width:55.5px;background:#0b3864;border-left:1px solid rgba(255,255,255,.42);"><span style="margin-left:-.4px">Client, end-user</span></div>
<div class="hd hb" style="left:345.3px;width:42.5px;background:#0b3864;border-left:1px solid rgba(255,255,255,.42);"><span style="margin-left:-.4px">Project closed
(Y/N)
Relevant for
removal from</span></div>
<div class="hd" style="left:396.9px;width:122.6px;background:#0b3864"><span>1st confirmed
delivery date</span></div>
<div class="hd" style="left:528.1px;width:122.8px;background:#0b3864"><span>Last confirmed
delivery date</span></div>
<div class="hd" style="left:659.3px;width:122.8px;background:#9c9560"><span>Project
value
Plan</span></div>
<div class="t" style="left:28.9px;top:108.0px;font-size:5.33px;color:#000;-webkit-text-stroke:.14px #000">Projects 0 to 40 of 150</div>
<div class="t" style="left:397.2px;top:107.4px;font-size:5.33px;color:#000;-webkit-text-stroke:.14px #000">ERP</div>
<div class="t" style="left:528.3px;top:107.4px;font-size:5.33px;color:#000;-webkit-text-stroke:.14px #000">ERP</div>
<div class="t" style="left:659.6px;top:107.4px;font-size:5.33px;color:#000;-webkit-text-stroke:.14px #000">ERP</div>
<div class="t" style="left:449.9px;top:107.4px;font-size:5.33px;color:#000;-webkit-text-stroke:.14px #000">ProMTO</div>
<div class="t" style="left:580.9px;top:107.4px;font-size:5.33px;color:#000;-webkit-text-stroke:.14px #000">ProMTO</div>
<div class="t" style="left:711.9px;top:107.4px;font-size:5.33px;color:#000;-webkit-text-stroke:.14px #000">ProMTO</div>
<div class="t" style="left:507px;top:107.4px;font-size:5.33px;color:#000;-webkit-text-stroke:.14px #000">All</div>
<div class="t" style="left:638.3px;top:107.4px;font-size:5.33px;color:#000;-webkit-text-stroke:.14px #000">All</div>
<div class="t" style="left:769.4px;top:107.4px;font-size:5.33px;color:#000;-webkit-text-stroke:.14px #000">All</div>
<div class="r" style="top:115.8px">
<div class="c" style="left:28.8px;width:12.6px;">1</div>
<div class="c" style="left:41.9px;width:38.3px;">Reutlingen</div>
<div class="c" style="left:80.8px;width:48.2px;">Vacuum Shrink</div>
<div class="c" style="left:129.6px;width:50.7px;">SOR 450061103</div>
<div class="c" style="left:180.9px;width:51.1px;">X115255770</div>
<div class="c" style="left:232.5px;width:57.7px;">FlexShrink 2000 PET</div>
<div class="c" style="left:290.8px;width:54.4px;">Cube Corrugated</div>
<div class="c" style="left:345.8px;width:42.0px;text-align:right;padding-right:0.3px;">Y</div>
<div class="c nv" style="left:396.9px;width:52.1px">14-Okt-18</div><div class="c nv dv" style="left:449.0px;width:52.6px;padding-left:.9px">15-Okt-18</div>
<div class="c" style="left:528.1px;width:51.9px">24-Okt-18</div><div class="c" style="left:580.0px;width:53px;padding-left:.9px">24-Okt-18</div>
<div class="c kh" style="left:659.3px;width:51.7px">188.225</div><div class="c kh dv" style="left:711.0px;width:53px;padding-left:.9px">184.225</div>
<div class="cb" style="left:506.3px"></div><div class="ar" style="left:513.5px"></div>
<div class="cb" style="left:637.6px"></div><div class="ar" style="left:644.8px"></div>
<div class="cb" style="left:768.9px"></div><div class="ar" style="left:776.1px"></div>
</div>
<div class="r" style="top:123.27px">
<div class="c" style="left:28.8px;width:12.6px;">2</div>
<div class="c" style="left:41.9px;width:38.3px;">Reutlingen</div>
<div class="c" style="left:80.8px;width:48.2px;">Metal Strap</div>
<div class="c" style="left:129.6px;width:50.7px;">SOR 450061109</div>
<div class="c" style="left:180.9px;width:51.1px;">X120302372</div>
<div class="c" style="left:232.5px;width:57.7px;">StretchGripper 4/6</div>
<div class="c" style="left:290.8px;width:54.4px;">Apex Arredamenti</div>
<div class="c" style="left:345.8px;width:42.0px;text-align:right;padding-right:0.3px;">Y</div>
<div class="c" style="left:396.9px;width:52.1px">5-Okt-18</div><div class="c" style="left:449.0px;width:52.6px;padding-left:.9px">5-Okt-18</div>
<div class="c nv" style="left:528.1px;width:51.9px">10-Okt-18</div><div class="c nv dv" style="left:580.0px;width:53px;padding-left:.9px">12-Okt-18</div>
<div class="c" style="left:659.3px;width:51.7px">30.729</div><div class="c" style="left:711.0px;width:53px;padding-left:.9px">30.729</div>
<div class="cb" style="left:506.3px"></div><div class="ar" style="left:513.5px"></div>
<div class="cb" style="left:637.6px"></div><div class="ar" style="left:644.8px"></div>
<div class="cb" style="left:768.9px"></div><div class="ar" style="left:776.1px"></div>
</div>
<div class="r" style="top:130.73px">
<div class="c" style="left:28.8px;width:12.6px;">3</div>
<div class="c" style="left:41.9px;width:38.3px;">Reutlingen</div>
<div class="c" style="left:80.8px;width:48.2px;">Vacuum Shrink</div>
<div class="c" style="left:129.6px;width:50.7px;">SOR 450061121</div>
<div class="c" style="left:180.9px;width:51.1px;">X121589191</div>
<div class="c" style="left:232.5px;width:57.7px;">FlexShrink 1500 PET</div>
<div class="c" style="left:290.8px;width:54.4px;">Herostar India Packaging</div>
<div class="c" style="left:345.8px;width:42.0px;text-align:right;padding-right:0.3px;">Y</div>
<div class="c" style="left:396.9px;width:52.1px">2-Nov-18</div><div class="c" style="left:449.0px;width:52.6px;padding-left:.9px">2-Nov-18</div>
<div class="c nv" style="left:528.1px;width:51.9px">8-Nov-18</div><div class="c nv dv" style="left:580.0px;width:53px;padding-left:.9px">12-Nov-18</div>
<div class="c kh" style="left:659.3px;width:51.7px">308.212</div><div class="c kh dv" style="left:711.0px;width:53px;padding-left:.9px">305.712</div>
<div class="cb" style="left:506.3px"></div><div class="ar" style="left:513.5px"></div>
<div class="cb" style="left:637.6px"></div><div class="ar" style="left:644.8px"></div>
<div class="cb" style="left:768.9px"></div><div class="ar" style="left:776.1px"></div>
</div>
<div class="r" style="top:138.2px">
<div class="c" style="left:28.8px;width:12.6px;">4</div>
<div class="c" style="left:41.9px;width:38.3px;">Reutlingen</div>
<div class="c" style="left:80.8px;width:48.2px;">Vacuum Shrink</div>
<div class="c" style="left:129.6px;width:50.7px;">SOR 450061130</div>
<div class="c" style="left:180.9px;width:51.1px;">X127031842</div>
<div class="c" style="left:232.5px;width:57.7px;">FlexShrink 1500 PET</div>
<div class="c" style="left:290.8px;width:54.4px;">Hatchpack</div>
<div class="c" style="left:345.8px;width:42.0px;text-align:right;padding-right:0.3px;">Y</div>
<div class="c" style="left:396.9px;width:52.1px">3-Nov-18</div><div class="c" style="left:449.0px;width:52.6px;padding-left:.9px">3-Nov-18</div>
<div class="c" style="left:528.1px;width:51.9px">8-Nov-18</div><div class="c" style="left:580.0px;width:53px;padding-left:.9px">8-Nov-18</div>
<div class="c" style="left:659.3px;width:51.7px">157.525</div><div class="c" style="left:711.0px;width:53px;padding-left:.9px">157.525</div>
<div class="cb" style="left:506.3px"></div><div class="ar" style="left:513.5px"></div>
<div class="cb" style="left:637.6px"></div><div class="ar" style="left:644.8px"></div>
<div class="cb" style="left:768.9px"></div><div class="ar" style="left:776.1px"></div>
</div>
<div class="r" style="top:145.67px">
<div class="c" style="left:28.8px;width:12.6px;">5</div>
<div class="c" style="left:41.9px;width:38.3px;">Reutlingen</div>
<div class="c" style="left:80.8px;width:48.2px;">Vacuum Shrink</div>
<div class="c" style="left:129.6px;width:50.7px;">SOR 450061134</div>
<div class="c" style="left:180.9px;width:51.1px;">X130410441</div>
<div class="c" style="left:232.5px;width:57.7px;">FlexWrap 1500</div>
<div class="c" style="left:290.8px;width:54.4px;">Keycon Corrugated</div>
<div class="c" style="left:345.8px;width:42.0px;text-align:right;padding-right:0.3px;">Y</div>
<div class="c nv" style="left:396.9px;width:52.1px">21-Okt-18</div><div class="c nv dv" style="left:449.0px;width:52.6px;padding-left:.9px">25-Okt-18</div>
<div class="c" style="left:528.1px;width:51.9px">21-Okt-18</div><div class="c" style="left:580.0px;width:53px;padding-left:.9px">21-Okt-18</div>
<div class="c" style="left:659.3px;width:51.7px">145.241</div><div class="c" style="left:711.0px;width:53px;padding-left:.9px">145.241</div>
<div class="cb" style="left:506.3px"></div><div class="ar" style="left:513.5px"></div>
<div class="cb" style="left:637.6px"></div><div class="ar" style="left:644.8px"></div>
<div class="cb" style="left:768.9px"></div><div class="ar" style="left:776.1px"></div>
</div>
<div class="r" style="top:153.13px">
<div class="c" style="left:28.8px;width:12.6px;">6</div>
<div class="c" style="left:41.9px;width:38.3px;">Reutlingen</div>
<div class="c" style="left:80.8px;width:48.2px;">Metal Strap</div>
<div class="c" style="left:129.6px;width:50.7px;">SOR 450061137</div>
<div class="c" style="left:180.9px;width:51.1px;">X137556996</div>
<div class="c" style="left:232.5px;width:57.7px;">Electrical automation</div>
<div class="c" style="left:290.8px;width:54.4px;">Rootware Vegetable Storage</div>
<div class="c" style="left:345.8px;width:42.0px;text-align:right;padding-right:0.3px;">Y</div>
<div class="c" style="left:396.9px;width:52.1px">16-Nov-18</div><div class="c" style="left:449.0px;width:52.6px;padding-left:.9px">16-Nov-18</div>
<div class="c" style="left:528.1px;width:51.9px">20-Nov-18</div><div class="c" style="left:580.0px;width:53px;padding-left:.9px">20-Nov-18</div>
<div class="c kh" style="left:659.3px;width:51.7px">36.440</div><div class="c kh dv" style="left:711.0px;width:53px;padding-left:.9px">36.438</div>
<div class="cb" style="left:506.3px"></div><div class="ar" style="left:513.5px"></div>
<div class="cb" style="left:637.6px"></div><div class="ar" style="left:644.8px"></div>
<div class="cb" style="left:768.9px"></div><div class="ar" style="left:776.1px"></div>
</div>
<div class="r" style="top:160.6px">
<div class="c" style="left:28.8px;width:12.6px;">7</div>
<div class="c" style="left:41.9px;width:38.3px;">Reutlingen</div>
<div class="c" style="left:80.8px;width:48.2px;">Metal Strap</div>
<div class="c" style="left:129.6px;width:50.7px;">SOR 450061142</div>
<div class="c" style="left:180.9px;width:51.1px;">X154863187</div>
<div class="c" style="left:232.5px;width:57.7px;">FlexWrap 2500 EU</div>
<div class="c" style="left:290.8px;width:54.4px;">Supercan Beverages</div>
<div class="c" style="left:345.8px;width:42.0px;text-align:right;padding-right:0.3px;">Y</div>
<div class="c" style="left:396.9px;width:52.1px">7-Dez-18</div><div class="c" style="left:449.0px;width:52.6px;padding-left:.9px">7-Dez-18</div>
<div class="c" style="left:528.1px;width:51.9px">8-Dez-18</div><div class="c" style="left:580.0px;width:53px;padding-left:.9px">8-Dez-18</div>
<div class="c" style="left:659.3px;width:51.7px">107.630</div><div class="c" style="left:711.0px;width:53px;padding-left:.9px">107.630</div>
<div class="cb" style="left:506.3px"></div><div class="ar" style="left:513.5px"></div>
<div class="cb" style="left:637.6px"></div><div class="ar" style="left:644.8px"></div>
<div class="cb" style="left:768.9px"></div><div class="ar" style="left:776.1px"></div>
</div>
<div class="r" style="top:168.07px">
<div class="c" style="left:28.8px;width:12.6px;">8</div>
<div class="c" style="left:41.9px;width:38.3px;">Reutlingen</div>
<div class="c" style="left:80.8px;width:48.2px;">Vacuum Shrink</div>
<div class="c" style="left:129.6px;width:50.7px;">SOR 450061150</div>
<div class="c" style="left:180.9px;width:51.1px;">X157881769</div>
<div class="c" style="left:232.5px;width:57.7px;">FlexShrink 500 PET</div>
<div class="c" style="left:290.8px;width:54.4px;">Marsbeat (Interco)</div>
<div class="c" style="left:345.8px;width:42.0px;text-align:right;padding-right:0.3px;">Y</div>
<div class="c" style="left:396.9px;width:52.1px">29-Nov-18</div><div class="c" style="left:449.0px;width:52.6px;padding-left:.9px">29-Nov-18</div>
<div class="c" style="left:528.1px;width:51.9px">2-Dez-18</div><div class="c" style="left:580.0px;width:53px;padding-left:.9px">2-Dez-18</div>
<div class="c" style="left:659.3px;width:51.7px">183.240</div><div class="c" style="left:711.0px;width:53px;padding-left:.9px">183.240</div>
<div class="cb" style="left:506.3px"></div><div class="ar" style="left:513.5px"></div>
<div class="cb" style="left:637.6px"></div><div class="ar" style="left:644.8px"></div>
<div class="cb" style="left:768.9px"></div><div class="ar" style="left:776.1px"></div>
</div>
<div class="r" style="top:175.53px">
<div class="c" style="left:28.8px;width:12.6px;">9</div>
<div class="c" style="left:41.9px;width:38.3px;">Reutlingen</div>
<div class="c" style="left:80.8px;width:48.2px;">Vacuum Shrink</div>
<div class="c" style="left:129.6px;width:50.7px;">SOR 450061168</div>
<div class="c" style="left:180.9px;width:51.1px;">X185705485</div>
<div class="c" style="left:232.5px;width:57.7px;">FlexShrink 1000 PET</div>
<div class="c" style="left:290.8px;width:54.4px;">Robofarm</div>
<div class="c" style="left:345.8px;width:42.0px;text-align:right;padding-right:0.3px;">Y</div>
<div class="c" style="left:396.9px;width:52.1px">25-Jan-19</div><div class="c" style="left:449.0px;width:52.6px;padding-left:.9px">25-Jan-19</div>
<div class="c" style="left:528.1px;width:51.9px">25-Jan-19</div><div class="c" style="left:580.0px;width:53px;padding-left:.9px">25-Jan-19</div>
<div class="c kh" style="left:659.3px;width:51.7px">103.209</div><div class="c kh dv" style="left:711.0px;width:53px;padding-left:.9px">102.609</div>
<div class="cb" style="left:506.3px"></div><div class="ar" style="left:513.5px"></div>
<div class="cb" style="left:637.6px"></div><div class="ar" style="left:644.8px"></div>
<div class="cb" style="left:768.9px"></div><div class="ar" style="left:776.1px"></div>
</div>
<div class="r" style="top:183.0px">
<div class="c" style="left:28.8px;width:12.6px;">10</div>
<div class="c" style="left:41.9px;width:38.3px;">Reutlingen</div>
<div class="c" style="left:80.8px;width:48.2px;">Vacuum Shrink</div>
<div class="c" style="left:129.6px;width:50.7px;">SOR 450061173</div>
<div class="c" style="left:180.9px;width:51.1px;">X187207460</div>
<div class="c" style="left:232.5px;width:57.7px;">FlexShrink 2000 PET</div>
<div class="c" style="left:290.8px;width:54.4px;">Mobi Dachtechnik</div>
<div class="c" style="left:345.8px;width:42.0px;text-align:right;padding-right:0.3px;">Y</div>
<div class="c" style="left:396.9px;width:52.1px">28-Jan-19</div><div class="c" style="left:449.0px;width:52.6px;padding-left:.9px">28-Jan-19</div>
<div class="c" style="left:528.1px;width:51.9px">8-Feb-19</div><div class="c" style="left:580.0px;width:53px;padding-left:.9px">8-Feb-19</div>
<div class="c" style="left:659.3px;width:51.7px">338.123</div><div class="c" style="left:711.0px;width:53px;padding-left:.9px">338.123</div>
<div class="cb" style="left:506.3px"></div><div class="ar" style="left:513.5px"></div>
<div class="cb" style="left:637.6px"></div><div class="ar" style="left:644.8px"></div>
<div class="cb" style="left:768.9px"></div><div class="ar" style="left:776.1px"></div>
</div>
<div class="r" style="top:190.47px">
<div class="c" style="left:28.8px;width:12.6px;">11</div>
<div class="c" style="left:41.9px;width:38.3px;">Reutlingen</div>
<div class="c" style="left:80.8px;width:48.2px;">Metal Strap</div>
<div class="c" style="left:129.6px;width:50.7px;">SOR 450061192</div>
<div class="c" style="left:180.9px;width:51.1px;">X206942024</div>
<div class="c" style="left:232.5px;width:57.7px;">PalletMaster Vario</div>
<div class="c" style="left:290.8px;width:54.4px;">Druckzentrum Süd</div>
<div class="c" style="left:345.8px;width:42.0px;text-align:right;padding-right:0.3px;">Y</div>
<div class="c" style="left:396.9px;width:52.1px">21-Feb-19</div><div class="c" style="left:449.0px;width:52.6px;padding-left:.9px">21-Feb-19</div>
<div class="c" style="left:528.1px;width:51.9px">20-Feb-19</div><div class="c" style="left:580.0px;width:53px;padding-left:.9px">20-Feb-19</div>
<div class="c" style="left:659.3px;width:51.7px">169.002</div><div class="c" style="left:711.0px;width:53px;padding-left:.9px">169.002</div>
<div class="cb" style="left:506.3px"></div><div class="ar" style="left:513.5px"></div>
<div class="cb" style="left:637.6px"></div><div class="ar" style="left:644.8px"></div>
<div class="cb" style="left:768.9px"></div><div class="ar" style="left:776.1px"></div>
</div>
<div class="r" style="top:197.93px">
<div class="c" style="left:28.8px;width:12.6px;">12</div>
<div class="c" style="left:41.9px;width:38.3px;">Reutlingen</div>
<div class="c" style="left:80.8px;width:48.2px;">Metal Strap</div>
<div class="c" style="left:129.6px;width:50.7px;">SOR 450061208</div>
<div class="c" style="left:180.9px;width:51.1px;">X233409379</div>
<div class="c" style="left:232.5px;width:57.7px;">StretchGripper 4/6</div>
<div class="c" style="left:290.8px;width:54.4px;">HH Airfreight Hamburg - Pj. Nord</div>
<div class="c" style="left:345.8px;width:42.0px;text-align:right;padding-right:0.3px;">Y</div>
<div class="c" style="left:396.9px;width:52.1px">14-Feb-19</div><div class="c" style="left:449.0px;width:52.6px;padding-left:.9px">14-Feb-19</div>
<div class="c" style="left:528.1px;width:51.9px">25-Feb-19</div><div class="c" style="left:580.0px;width:53px;padding-left:.9px">25-Feb-19</div>
<div class="c" style="left:659.3px;width:51.7px">29.034</div><div class="c" style="left:711.0px;width:53px;padding-left:.9px">29.034</div>
<div class="cb" style="left:506.3px"></div><div class="ar" style="left:513.5px"></div>
<div class="cb" style="left:637.6px"></div><div class="ar" style="left:644.8px"></div>
<div class="cb" style="left:768.9px"></div><div class="ar" style="left:776.1px"></div>
</div>
<div class="r" style="top:205.4px">
<div class="c" style="left:28.8px;width:12.6px;">13</div>
<div class="c" style="left:41.9px;width:38.3px;">Reutlingen</div>
<div class="c" style="left:80.8px;width:48.2px;">Vacuum Shrink</div>
<div class="c" style="left:129.6px;width:50.7px;">SOR 450061214</div>
<div class="c" style="left:180.9px;width:51.1px;">X239348200</div>
<div class="c" style="left:232.5px;width:57.7px;">FlexWrap 2500 EU</div>
<div class="c" style="left:290.8px;width:54.4px;">Altro Pack</div>
<div class="c" style="left:345.8px;width:42.0px;text-align:right;padding-right:0.3px;">Y</div>
<div class="c" style="left:396.9px;width:52.1px">17-Feb-19</div><div class="c" style="left:449.0px;width:52.6px;padding-left:.9px">17-Feb-19</div>
<div class="c" style="left:528.1px;width:51.9px">19-Feb-19</div><div class="c" style="left:580.0px;width:53px;padding-left:.9px">19-Feb-19</div>
<div class="c" style="left:659.3px;width:51.7px">86.598</div><div class="c" style="left:711.0px;width:53px;padding-left:.9px">86.598</div>
<div class="cb" style="left:506.3px"></div><div class="ar" style="left:513.5px"></div>
<div class="cb" style="left:637.6px"></div><div class="ar" style="left:644.8px"></div>
<div class="cb" style="left:768.9px"></div><div class="ar" style="left:776.1px"></div>
</div>
<div class="r" style="top:212.87px">
<div class="c" style="left:28.8px;width:12.6px;">14</div>
<div class="c" style="left:41.9px;width:38.3px;">Reutlingen</div>
<div class="c" style="left:80.8px;width:48.2px;">Vacuum Shrink</div>
<div class="c" style="left:129.6px;width:50.7px;">SOR 450061217</div>
<div class="c" style="left:180.9px;width:51.1px;">X242319788</div>
<div class="c" style="left:232.5px;width:57.7px;">FlexShrink 1000 PET</div>
<div class="c" style="left:290.8px;width:54.4px;">Cellografica Cortona (Interco)</div>
<div class="c" style="left:345.8px;width:42.0px;text-align:right;padding-right:0.3px;">Y</div>
<div class="c" style="left:396.9px;width:52.1px">28-Mrz-19</div><div class="c" style="left:449.0px;width:52.6px;padding-left:.9px">28-Mrz-19</div>
<div class="c" style="left:528.1px;width:51.9px">7-Apr-19</div><div class="c" style="left:580.0px;width:53px;padding-left:.9px">7-Apr-19</div>
<div class="c" style="left:659.3px;width:51.7px">186.037</div><div class="c" style="left:711.0px;width:53px;padding-left:.9px">186.037</div>
<div class="cb" style="left:506.3px"></div><div class="ar" style="left:513.5px"></div>
<div class="cb" style="left:637.6px"></div><div class="ar" style="left:644.8px"></div>
<div class="cb" style="left:768.9px"></div><div class="ar" style="left:776.1px"></div>
</div>
<div class="r" style="top:220.33px">
<div class="c" style="left:28.8px;width:12.6px;">15</div>
<div class="c" style="left:41.9px;width:38.3px;">Reutlingen</div>
<div class="c" style="left:80.8px;width:48.2px;">Vacuum Shrink</div>
<div class="c" style="left:129.6px;width:50.7px;">SOR 450061223</div>
<div class="c" style="left:180.9px;width:51.1px;">X250698062</div>
<div class="c" style="left:232.5px;width:57.7px;">FlexWrap 2500 EU</div>
<div class="c" style="left:290.8px;width:54.4px;">S.S. Whitehall - Birmingham</div>
<div class="c" style="left:345.8px;width:42.0px;text-align:right;padding-right:0.3px;">Y</div>
<div class="c" style="left:396.9px;width:52.1px">7-Apr-19</div><div class="c" style="left:449.0px;width:52.6px;padding-left:.9px">7-Apr-19</div>
<div class="c" style="left:528.1px;width:51.9px">13-Apr-19</div><div class="c" style="left:580.0px;width:53px;padding-left:.9px">13-Apr-19</div>
<div class="c" style="left:659.3px;width:51.7px">68.903</div><div class="c" style="left:711.0px;width:53px;padding-left:.9px">68.903</div>
<div class="cb" style="left:506.3px"></div><div class="ar" style="left:513.5px"></div>
<div class="cb" style="left:637.6px"></div><div class="ar" style="left:644.8px"></div>
<div class="cb" style="left:768.9px"></div><div class="ar" style="left:776.1px"></div>
</div>
<div class="r" style="top:227.8px">
<div class="c" style="left:28.8px;width:12.6px;">16</div>
<div class="c" style="left:41.9px;width:38.3px;">Reutlingen</div>
<div class="c" style="left:80.8px;width:48.2px;">Vacuum Shrink</div>
<div class="c" style="left:129.6px;width:50.7px;">SOR 450061237</div>
<div class="c" style="left:180.9px;width:51.1px;">X264446633</div>
<div class="c" style="left:232.5px;width:57.7px;">FlexWrap 2000</div>
<div class="c" style="left:290.8px;width:54.4px;">Boland Fastpac - Pj. Export</div>
<div class="c" style="left:345.8px;width:42.0px;text-align:right;padding-right:0.3px;">Y</div>
<div class="c" style="left:396.9px;width:52.1px">22-Apr-19</div><div class="c" style="left:449.0px;width:52.6px;padding-left:.9px">22-Apr-19</div>
<div class="c" style="left:528.1px;width:51.9px">3-Mai-19</div><div class="c" style="left:580.0px;width:53px;padding-left:.9px">3-Mai-19</div>
<div class="c" style="left:659.3px;width:51.7px">57.778</div><div class="c" style="left:711.0px;width:53px;padding-left:.9px">57.778</div>
<div class="cb" style="left:506.3px"></div><div class="ar" style="left:513.5px"></div>
<div class="cb" style="left:637.6px"></div><div class="ar" style="left:644.8px"></div>
<div class="cb" style="left:768.9px"></div><div class="ar" style="left:776.1px"></div>
</div>
<div class="r" style="top:235.27px">
<div class="c" style="left:28.8px;width:12.6px;">17</div>
<div class="c" style="left:41.9px;width:38.3px;">Reutlingen</div>
<div class="c" style="left:80.8px;width:48.2px;">Vacuum Shrink</div>
<div class="c" style="left:129.6px;width:50.7px;">SOR 450061246</div>
<div class="c" style="left:180.9px;width:51.1px;">X273859791</div>
<div class="c" style="left:232.5px;width:57.7px;">FlexWrap 1500</div>
<div class="c" style="left:290.8px;width:54.4px;">Stirling POL - Pj. Lodz II</div>
<div class="c" style="left:345.8px;width:42.0px;text-align:right;padding-right:0.3px;">Y</div>
<div class="c" style="left:396.9px;width:52.1px">12-Mai-19</div><div class="c" style="left:449.0px;width:52.6px;padding-left:.9px">12-Mai-19</div>
<div class="c" style="left:528.1px;width:51.9px">12-Mai-19</div><div class="c" style="left:580.0px;width:53px;padding-left:.9px">12-Mai-19</div>
<div class="c" style="left:659.3px;width:51.7px">164.756</div><div class="c" style="left:711.0px;width:53px;padding-left:.9px">164.756</div>
<div class="cb" style="left:506.3px"></div><div class="ar" style="left:513.5px"></div>
<div class="cb" style="left:637.6px"></div><div class="ar" style="left:644.8px"></div>
<div class="cb" style="left:768.9px"></div><div class="ar" style="left:776.1px"></div>
</div>
<div class="r" style="top:242.73px">
<div class="c" style="left:28.8px;width:12.6px;">18</div>
<div class="c" style="left:41.9px;width:38.3px;">Reutlingen</div>
<div class="c" style="left:80.8px;width:48.2px;">Vacuum Shrink</div>
<div class="c" style="left:129.6px;width:50.7px;">SOR 450061250</div>
<div class="c" style="left:180.9px;width:51.1px;">X277268198</div>
<div class="c" style="left:232.5px;width:57.7px;">FlexWrap 2500 US</div>
<div class="c" style="left:290.8px;width:54.4px;">Mayrhofen Pharmaceuticals</div>
<div class="c" style="left:345.8px;width:42.0px;text-align:right;padding-right:0.3px;">Y</div>
<div class="c" style="left:396.9px;width:52.1px">13-Apr-19</div><div class="c" style="left:449.0px;width:52.6px;padding-left:.9px">13-Apr-19</div>
<div class="c" style="left:528.1px;width:51.9px">20-Apr-19</div><div class="c" style="left:580.0px;width:53px;padding-left:.9px">20-Apr-19</div>
<div class="c" style="left:659.3px;width:51.7px">54.172</div><div class="c" style="left:711.0px;width:53px;padding-left:.9px">54.172</div>
<div class="cb" style="left:506.3px"></div><div class="ar" style="left:513.5px"></div>
<div class="cb" style="left:637.6px"></div><div class="ar" style="left:644.8px"></div>
<div class="cb" style="left:768.9px"></div><div class="ar" style="left:776.1px"></div>
</div>
<div class="r" style="top:250.2px">
<div class="c" style="left:28.8px;width:12.6px;">19</div>
<div class="c" style="left:41.9px;width:38.3px;">Reutlingen</div>
<div class="c" style="left:80.8px;width:48.2px;">Vacuum Shrink</div>
<div class="c" style="left:129.6px;width:50.7px;">SOR 450061260</div>
<div class="c" style="left:180.9px;width:51.1px;">X281146205</div>
<div class="c" style="left:232.5px;width:57.7px;">FlexShrink 2500 PET</div>
<div class="c" style="left:290.8px;width:54.4px;">Westpark Corrugated - Pj. Boston</div>
<div class="c" style="left:345.8px;width:42.0px;text-align:right;padding-right:0.3px;">Y</div>
<div class="c" style="left:396.9px;width:52.1px">3-Mai-19</div><div class="c" style="left:449.0px;width:52.6px;padding-left:.9px">3-Mai-19</div>
<div class="c" style="left:528.1px;width:51.9px">14-Mai-19</div><div class="c" style="left:580.0px;width:53px;padding-left:.9px">14-Mai-19</div>
<div class="c" style="left:659.3px;width:51.7px">161.716</div><div class="c" style="left:711.0px;width:53px;padding-left:.9px">161.716</div>
<div class="cb" style="left:506.3px"></div><div class="ar" style="left:513.5px"></div>
<div class="cb" style="left:637.6px"></div><div class="ar" style="left:644.8px"></div>
<div class="cb" style="left:768.9px"></div><div class="ar" style="left:776.1px"></div>
</div>
<div class="r" style="top:257.67px">
<div class="c" style="left:28.8px;width:12.6px;">20</div>
<div class="c" style="left:41.9px;width:38.3px;">Reutlingen</div>
<div class="c" style="left:80.8px;width:48.2px;">Vacuum Shrink</div>
<div class="c" style="left:129.6px;width:50.7px;">SOR 450061268</div>
<div class="c" style="left:180.9px;width:51.1px;">X285669330</div>
<div class="c" style="left:232.5px;width:57.7px;">FlexShrink 2500 PET</div>
<div class="c" style="left:290.8px;width:54.4px;">Pischelrieder Möbelspedition</div>
<div class="c" style="left:345.8px;width:42.0px;text-align:right;padding-right:0.3px;">Y</div>
<div class="c" style="left:396.9px;width:52.1px">16-Mai-19</div><div class="c" style="left:449.0px;width:52.6px;padding-left:.9px">16-Mai-19</div>
<div class="c" style="left:528.1px;width:51.9px">21-Mai-19</div><div class="c" style="left:580.0px;width:53px;padding-left:.9px">21-Mai-19</div>
<div class="c" style="left:659.3px;width:51.7px">358.226</div><div class="c" style="left:711.0px;width:53px;padding-left:.9px">358.226</div>
<div class="cb" style="left:506.3px"></div><div class="ar" style="left:513.5px"></div>
<div class="cb" style="left:637.6px"></div><div class="ar" style="left:644.8px"></div>
<div class="cb" style="left:768.9px"></div><div class="ar" style="left:776.1px"></div>
</div>
<div class="r" style="top:265.13px">
<div class="c" style="left:28.8px;width:12.6px;">21</div>
<div class="c" style="left:41.9px;width:38.3px;">Reutlingen</div>
<div class="c" style="left:80.8px;width:48.2px;">Vacuum Shrink</div>
<div class="c" style="left:129.6px;width:50.7px;">SOR 450061280</div>
<div class="c" style="left:180.9px;width:51.1px;">X300285465</div>
<div class="c" style="left:232.5px;width:57.7px;">FlexShrink 1500 PET</div>
<div class="c" style="left:290.8px;width:54.4px;">ZET Automatisierungstechnik</div>
<div class="c" style="left:345.8px;width:42.0px;text-align:right;padding-right:0.3px;">Y</div>
<div class="c" style="left:396.9px;width:52.1px">25-Mai-19</div><div class="c" style="left:449.0px;width:52.6px;padding-left:.9px">25-Mai-19</div>
<div class="c" style="left:528.1px;width:51.9px">26-Mai-19</div><div class="c" style="left:580.0px;width:53px;padding-left:.9px">26-Mai-19</div>
<div class="c" style="left:659.3px;width:51.7px">189.598</div><div class="c" style="left:711.0px;width:53px;padding-left:.9px">189.598</div>
<div class="cb" style="left:506.3px"></div><div class="ar" style="left:513.5px"></div>
<div class="cb" style="left:637.6px"></div><div class="ar" style="left:644.8px"></div>
<div class="cb" style="left:768.9px"></div><div class="ar" style="left:776.1px"></div>
</div>
<div class="r" style="top:272.6px">
<div class="c" style="left:28.8px;width:12.6px;">22</div>
<div class="c" style="left:41.9px;width:38.3px;">Reutlingen</div>
<div class="c" style="left:80.8px;width:48.2px;">Metal Strap</div>
<div class="c" style="left:129.6px;width:50.7px;">SOR 450061283</div>
<div class="c" style="left:180.9px;width:51.1px;">X303048194</div>
<div class="c" style="left:232.5px;width:57.7px;">Electrical automation</div>
<div class="c" style="left:290.8px;width:54.4px;">THS Corrugated - Pj. Nord</div>
<div class="c" style="left:345.8px;width:42.0px;text-align:right;padding-right:0.3px;">Y</div>
<div class="c" style="left:396.9px;width:52.1px">3-Jun-19</div><div class="c" style="left:449.0px;width:52.6px;padding-left:.9px">3-Jun-19</div>
<div class="c" style="left:528.1px;width:51.9px">13-Jun-19</div><div class="c" style="left:580.0px;width:53px;padding-left:.9px">13-Jun-19</div>
<div class="c" style="left:659.3px;width:51.7px">3.083</div><div class="c" style="left:711.0px;width:53px;padding-left:.9px">3.083</div>
<div class="cb" style="left:506.3px"></div><div class="ar" style="left:513.5px"></div>
<div class="cb" style="left:637.6px"></div><div class="ar" style="left:644.8px"></div>
<div class="cb" style="left:768.9px"></div><div class="ar" style="left:776.1px"></div>
</div>
<div class="r" style="top:280.07px">
<div class="c" style="left:28.8px;width:12.6px;">23</div>
<div class="c" style="left:41.9px;width:38.3px;">Reutlingen</div>
<div class="c" style="left:80.8px;width:48.2px;">Vacuum Shrink</div>
<div class="c" style="left:129.6px;width:50.7px;">SOR 450061287</div>
<div class="c" style="left:180.9px;width:51.1px;">X311698584</div>
<div class="c" style="left:232.5px;width:57.7px;">FlexWrap 2500 US</div>
<div class="c" style="left:290.8px;width:54.4px;">Shenzen Custom Packaging</div>
<div class="c" style="left:345.8px;width:42.0px;text-align:right;padding-right:0.3px;">Y</div>
<div class="c" style="left:396.9px;width:52.1px">28-Jun-19</div><div class="c" style="left:449.0px;width:52.6px;padding-left:.9px">28-Jun-19</div>
<div class="c" style="left:528.1px;width:51.9px">8-Jul-19</div><div class="c" style="left:580.0px;width:53px;padding-left:.9px">8-Jul-19</div>
<div class="c" style="left:659.3px;width:51.7px">84.899</div><div class="c" style="left:711.0px;width:53px;padding-left:.9px">84.899</div>
<div class="cb" style="left:506.3px"></div><div class="ar" style="left:513.5px"></div>
<div class="cb" style="left:637.6px"></div><div class="ar" style="left:644.8px"></div>
<div class="cb" style="left:768.9px"></div><div class="ar" style="left:776.1px"></div>
</div>
<div class="r" style="top:287.53px">
<div class="c" style="left:28.8px;width:12.6px;">24</div>
<div class="c" style="left:41.9px;width:38.3px;">Reutlingen</div>
<div class="c" style="left:80.8px;width:48.2px;">Metal Strap</div>
<div class="c" style="left:129.6px;width:50.7px;">SOR 450061293</div>
<div class="c" style="left:180.9px;width:51.1px;">X322531030</div>
<div class="c" style="left:232.5px;width:57.7px;">StretchGripper 2/6</div>
<div class="c" style="left:290.8px;width:54.4px;">Alphaworks - Pj. Mediolanum</div>
<div class="c" style="left:345.8px;width:42.0px;text-align:right;padding-right:0.3px;">Y</div>
<div class="c" style="left:396.9px;width:52.1px">25-Jul-19</div><div class="c" style="left:449.0px;width:52.6px;padding-left:.9px">25-Jul-19</div>
<div class="c" style="left:528.1px;width:51.9px">4-Aug-19</div><div class="c" style="left:580.0px;width:53px;padding-left:.9px">4-Aug-19</div>
<div class="c" style="left:659.3px;width:51.7px">7.096</div><div class="c" style="left:711.0px;width:53px;padding-left:.9px">7.096</div>
<div class="cb" style="left:506.3px"></div><div class="ar" style="left:513.5px"></div>
<div class="cb" style="left:637.6px"></div><div class="ar" style="left:644.8px"></div>
<div class="cb" style="left:768.9px"></div><div class="ar" style="left:776.1px"></div>
</div>
<div class="r" style="top:295.0px">
<div class="c" style="left:28.8px;width:12.6px;">25</div>
<div class="c" style="left:41.9px;width:38.3px;">Reutlingen</div>
<div class="c" style="left:80.8px;width:48.2px;">Metal Strap</div>
<div class="c" style="left:129.6px;width:50.7px;">SOR 450061296</div>
<div class="c" style="left:180.9px;width:51.1px;">X330206182</div>
<div class="c" style="left:232.5px;width:57.7px;">Conveyors</div>
<div class="c" style="left:290.8px;width:54.4px;">Custom Containers Colorado</div>
<div class="c" style="left:345.8px;width:42.0px;text-align:right;padding-right:0.3px;">Y</div>
<div class="c" style="left:396.9px;width:52.1px">1-Jul-19</div><div class="c" style="left:449.0px;width:52.6px;padding-left:.9px">1-Jul-19</div>
<div class="c" style="left:528.1px;width:51.9px">11-Jul-19</div><div class="c" style="left:580.0px;width:53px;padding-left:.9px">11-Jul-19</div>
<div class="c" style="left:659.3px;width:51.7px">3.553</div><div class="c" style="left:711.0px;width:53px;padding-left:.9px">3.553</div>
<div class="cb" style="left:506.3px"></div><div class="ar" style="left:513.5px"></div>
<div class="cb" style="left:637.6px"></div><div class="ar" style="left:644.8px"></div>
<div class="cb" style="left:768.9px"></div><div class="ar" style="left:776.1px"></div>
</div>
<div class="r" style="top:302.47px">
<div class="c" style="left:28.8px;width:12.6px;">26</div>
<div class="c" style="left:41.9px;width:38.3px;">Reutlingen</div>
<div class="c" style="left:80.8px;width:48.2px;">Vacuum Shrink</div>
<div class="c" style="left:129.6px;width:50.7px;">SOR 450061303</div>
<div class="c" style="left:180.9px;width:51.1px;">X341262557</div>
<div class="c" style="left:232.5px;width:57.7px;">FlexWrap 2500 US</div>
<div class="c" style="left:290.8px;width:54.4px;">Stirling POL - Pj. Opole</div>
<div class="c" style="left:345.8px;width:42.0px;text-align:right;padding-right:0.3px;">Y</div>
<div class="c" style="left:396.9px;width:52.1px">29-Jul-19</div><div class="c" style="left:449.0px;width:52.6px;padding-left:.9px">29-Jul-19</div>
<div class="c" style="left:528.1px;width:51.9px">2-Aug-19</div><div class="c" style="left:580.0px;width:53px;padding-left:.9px">2-Aug-19</div>
<div class="c" style="left:659.3px;width:51.7px">70.649</div><div class="c" style="left:711.0px;width:53px;padding-left:.9px">70.649</div>
<div class="cb" style="left:506.3px"></div><div class="ar" style="left:513.5px"></div>
<div class="cb" style="left:637.6px"></div><div class="ar" style="left:644.8px"></div>
<div class="cb" style="left:768.9px"></div><div class="ar" style="left:776.1px"></div>
</div>
<div class="r" style="top:309.93px">
<div class="c" style="left:28.8px;width:12.6px;">27</div>
<div class="c" style="left:41.9px;width:38.3px;">Reutlingen</div>
<div class="c" style="left:80.8px;width:48.2px;">Metal Strap</div>
<div class="c" style="left:129.6px;width:50.7px;">SOR 450061306</div>
<div class="c" style="left:180.9px;width:51.1px;">X342263521</div>
<div class="c" style="left:232.5px;width:57.7px;">Electrical automation</div>
<div class="c" style="left:290.8px;width:54.4px;">Agrimart SA - Pj. Durban</div>
<div class="c" style="left:345.8px;width:42.0px;text-align:right;padding-right:0.3px;">Y</div>
<div class="c" style="left:396.9px;width:52.1px">29-Jul-19</div><div class="c" style="left:449.0px;width:52.6px;padding-left:.9px">29-Jul-19</div>
<div class="c" style="left:528.1px;width:51.9px">2-Aug-19</div><div class="c" style="left:580.0px;width:53px;padding-left:.9px">2-Aug-19</div>
<div class="c" style="left:659.3px;width:51.7px">32.793</div><div class="c" style="left:711.0px;width:53px;padding-left:.9px">32.793</div>
<div class="cb" style="left:506.3px"></div><div class="ar" style="left:513.5px"></div>
<div class="cb" style="left:637.6px"></div><div class="ar" style="left:644.8px"></div>
<div class="cb" style="left:768.9px"></div><div class="ar" style="left:776.1px"></div>
</div>
<div class="r" style="top:317.4px">
<div class="c" style="left:28.8px;width:12.6px;">28</div>
<div class="c" style="left:41.9px;width:38.3px;">Reutlingen</div>
<div class="c" style="left:80.8px;width:48.2px;">Vacuum Shrink</div>
<div class="c" style="left:129.6px;width:50.7px;">SOR 450061316</div>
<div class="c" style="left:180.9px;width:51.1px;">X354296073</div>
<div class="c" style="left:232.5px;width:57.7px;">FlexShrink 2500 PET</div>
<div class="c" style="left:290.8px;width:54.4px;">Stirling POL - Pj. PNT Cargo</div>
<div class="c" style="left:345.8px;width:42.0px;text-align:right;padding-right:0.3px;">Y</div>
<div class="c" style="left:396.9px;width:52.1px">6-Sep-19</div><div class="c" style="left:449.0px;width:52.6px;padding-left:.9px">6-Sep-19</div>
<div class="c" style="left:528.1px;width:51.9px">5-Sep-19</div><div class="c" style="left:580.0px;width:53px;padding-left:.9px">5-Sep-19</div>
<div class="c" style="left:659.3px;width:51.7px">176.113</div><div class="c" style="left:711.0px;width:53px;padding-left:.9px">176.113</div>
<div class="cb" style="left:506.3px"></div><div class="ar" style="left:513.5px"></div>
<div class="cb" style="left:637.6px"></div><div class="ar" style="left:644.8px"></div>
<div class="cb" style="left:768.9px"></div><div class="ar" style="left:776.1px"></div>
</div>
<div class="r" style="top:324.87px">
<div class="c" style="left:28.8px;width:12.6px;">29</div>
<div class="c" style="left:41.9px;width:38.3px;">Reutlingen</div>
<div class="c" style="left:80.8px;width:48.2px;">Metal Strap</div>
<div class="c" style="left:129.6px;width:50.7px;">SOR 450061323</div>
<div class="c" style="left:180.9px;width:51.1px;">X369816854</div>
<div class="c" style="left:232.5px;width:57.7px;">PalletMaster Vario</div>
<div class="c" style="left:290.8px;width:54.4px;">C.-T. Hauser Automotive</div>
<div class="c" style="left:345.8px;width:42.0px;text-align:right;padding-right:0.3px;">Y</div>
<div class="c" style="left:396.9px;width:52.1px">7-Okt-19</div><div class="c" style="left:449.0px;width:52.6px;padding-left:.9px">7-Okt-19</div>
<div class="c" style="left:528.1px;width:51.9px">10-Okt-19</div><div class="c" style="left:580.0px;width:53px;padding-left:.9px">10-Okt-19</div>
<div class="c" style="left:659.3px;width:51.7px">188.028</div><div class="c" style="left:711.0px;width:53px;padding-left:.9px">188.028</div>
<div class="cb" style="left:506.3px"></div><div class="ar" style="left:513.5px"></div>
<div class="cb" style="left:637.6px"></div><div class="ar" style="left:644.8px"></div>
<div class="cb" style="left:768.9px"></div><div class="ar" style="left:776.1px"></div>
</div>
<div class="r" style="top:332.33px">
<div class="c" style="left:28.8px;width:12.6px;">30</div>
<div class="c" style="left:41.9px;width:38.3px;">Reutlingen</div>
<div class="c" style="left:80.8px;width:48.2px;">Metal Strap</div>
<div class="c" style="left:129.6px;width:50.7px;">SOR 450061326</div>
<div class="c" style="left:180.9px;width:51.1px;">X374233473</div>
<div class="c" style="left:232.5px;width:57.7px;">StretchGripper 6/6</div>
<div class="c" style="left:290.8px;width:54.4px;">Zuid-Limburgse Zuivelproducten</div>
<div class="c" style="left:345.8px;width:42.0px;text-align:right;padding-right:0.3px;">Y</div>
<div class="c" style="left:396.9px;width:52.1px">30-Sep-19</div><div class="c" style="left:449.0px;width:52.6px;padding-left:.9px">30-Sep-19</div>
<div class="c" style="left:528.1px;width:51.9px">8-Okt-19</div><div class="c" style="left:580.0px;width:53px;padding-left:.9px">8-Okt-19</div>
<div class="c" style="left:659.3px;width:51.7px">42.045</div><div class="c" style="left:711.0px;width:53px;padding-left:.9px">42.045</div>
<div class="cb" style="left:506.3px"></div><div class="ar" style="left:513.5px"></div>
<div class="cb" style="left:637.6px"></div><div class="ar" style="left:644.8px"></div>
<div class="cb" style="left:768.9px"></div><div class="ar" style="left:776.1px"></div>
</div>
<div class="r sel" style="top:340.2px">
<div class="c" style="left:28.8px;width:12.6px;">31</div>
<div class="c" style="left:41.9px;width:38.3px;">Reutlingen</div>
<div class="c" style="left:80.8px;width:48.2px;">Vacuum Shrink</div>
<div class="c" style="left:129.6px;width:50.7px;">SOR 450061335</div>
<div class="c" style="left:180.9px;width:51.1px;">X393875817</div>
<div class="c" style="left:232.5px;width:57.7px;">FlexShrink 2000 PET</div>
<div class="c" style="left:290.8px;width:54.4px;">Escher Logistik - Pj. Hof</div>
<div class="c" style="left:345.8px;width:42.0px;text-align:right;padding-right:0.3px;">Y</div>
<div class="c" style="left:396.9px;width:52.1px">4-Okt-19</div><div class="c" style="left:449.0px;width:52.6px;padding-left:.9px">4-Okt-19</div>
<div class="c" style="left:528.1px;width:51.9px">8-Okt-19</div><div class="c" style="left:580.0px;width:53px;padding-left:.9px">8-Okt-19</div>
<div class="c pk" style="left:659.3px;width:51.7px">193.317</div><div class="c pk dv" style="left:711.0px;width:53px;padding-left:.9px">193.317</div>
<div class="cb" style="left:506.3px"></div><div class="ar" style="left:513.5px"></div>
<div class="cb" style="left:637.6px"></div><div class="ar" style="left:644.8px"></div>
<div class="cb" style="left:768.9px"></div><div class="ar" style="left:776.1px"></div>
</div>
<div class="r" style="top:347.27px">
<div class="c" style="left:28.8px;width:12.6px;">32</div>
<div class="c" style="left:41.9px;width:38.3px;">Reutlingen</div>
<div class="c" style="left:80.8px;width:48.2px;">Metal Strap</div>
<div class="c" style="left:129.6px;width:50.7px;">SOR 450061347</div>
<div class="c" style="left:180.9px;width:51.1px;">X400484765</div>
<div class="c" style="left:232.5px;width:57.7px;">StretchGripper 2/6</div>
<div class="c" style="left:290.8px;width:54.4px;">Winzergenossenschaft Pfalz</div>
<div class="c" style="left:345.8px;width:42.0px;text-align:right;padding-right:0.3px;">Y</div>
<div class="c" style="left:396.9px;width:52.1px">26-Okt-19</div><div class="c" style="left:449.0px;width:52.6px;padding-left:.9px">26-Okt-19</div>
<div class="c" style="left:528.1px;width:51.9px">3-Nov-19</div><div class="c" style="left:580.0px;width:53px;padding-left:.9px">3-Nov-19</div>
<div class="c" style="left:659.3px;width:51.7px">3.956</div><div class="c" style="left:711.0px;width:53px;padding-left:.9px">3.956</div>
<div class="cb" style="left:506.3px"></div><div class="ar" style="left:513.5px"></div>
<div class="cb" style="left:637.6px"></div><div class="ar" style="left:644.8px"></div>
<div class="cb" style="left:768.9px"></div><div class="ar" style="left:776.1px"></div>
</div>
<div class="r" style="top:354.73px">
<div class="c" style="left:28.8px;width:12.6px;">33</div>
<div class="c" style="left:41.9px;width:38.3px;">Reutlingen</div>
<div class="c" style="left:80.8px;width:48.2px;">Vacuum Shrink</div>
<div class="c" style="left:129.6px;width:50.7px;">SOR 450061350</div>
<div class="c" style="left:180.9px;width:51.1px;">X405954270</div>
<div class="c" style="left:232.5px;width:57.7px;">FlexShrink 1500 PET</div>
<div class="c" style="left:290.8px;width:54.4px;">Scanfood - Pj. Distribution</div>
<div class="c" style="left:345.8px;width:42.0px;text-align:right;padding-right:0.3px;">Y</div>
<div class="c" style="left:396.9px;width:52.1px">11-Nov-19</div><div class="c" style="left:449.0px;width:52.6px;padding-left:.9px">11-Nov-19</div>
<div class="c" style="left:528.1px;width:51.9px">9-Nov-19</div><div class="c" style="left:580.0px;width:53px;padding-left:.9px">9-Nov-19</div>
<div class="c" style="left:659.3px;width:51.7px">161.285</div><div class="c" style="left:711.0px;width:53px;padding-left:.9px">161.285</div>
<div class="cb" style="left:506.3px"></div><div class="ar" style="left:513.5px"></div>
<div class="cb" style="left:637.6px"></div><div class="ar" style="left:644.8px"></div>
<div class="cb" style="left:768.9px"></div><div class="ar" style="left:776.1px"></div>
</div>
<div class="r" style="top:362.2px">
<div class="c" style="left:28.8px;width:12.6px;">34</div>
<div class="c" style="left:41.9px;width:38.3px;">Reutlingen</div>
<div class="c" style="left:80.8px;width:48.2px;">Vacuum Shrink</div>
<div class="c" style="left:129.6px;width:50.7px;">SOR 450061354</div>
<div class="c" style="left:180.9px;width:51.1px;">X409668301</div>
<div class="c" style="left:232.5px;width:57.7px;">FlexWrap 2500 EU</div>
<div class="c" style="left:290.8px;width:54.4px;">ATC Feinchemie - Pj. Ingolstadt</div>
<div class="c" style="left:345.8px;width:42.0px;text-align:right;padding-right:0.3px;">Y</div>
<div class="c" style="left:396.9px;width:52.1px">8-Nov-19</div><div class="c" style="left:449.0px;width:52.6px;padding-left:.9px">8-Nov-19</div>
<div class="c" style="left:528.1px;width:51.9px">7-Nov-19</div><div class="c" style="left:580.0px;width:53px;padding-left:.9px">7-Nov-19</div>
<div class="c" style="left:659.3px;width:51.7px">74.428</div><div class="c" style="left:711.0px;width:53px;padding-left:.9px">74.428</div>
<div class="cb" style="left:506.3px"></div><div class="ar" style="left:513.5px"></div>
<div class="cb" style="left:637.6px"></div><div class="ar" style="left:644.8px"></div>
<div class="cb" style="left:768.9px"></div><div class="ar" style="left:776.1px"></div>
</div>
<div class="r" style="top:369.67px">
<div class="c" style="left:28.8px;width:12.6px;">35</div>
<div class="c" style="left:41.9px;width:38.3px;">Reutlingen</div>
<div class="c" style="left:80.8px;width:48.2px;">Vacuum Shrink</div>
<div class="c" style="left:129.6px;width:50.7px;">SOR 450061363</div>
<div class="c" style="left:180.9px;width:51.1px;">X427666008</div>
<div class="c" style="left:232.5px;width:57.7px;">FlexWrap 2500 EU</div>
<div class="c" style="left:290.8px;width:54.4px;">Arber Verpackungstechnik</div>
<div class="c" style="left:345.8px;width:42.0px;text-align:right;padding-right:0.3px;">Y</div>
<div class="c" style="left:396.9px;width:52.1px">15-Nov-19</div><div class="c" style="left:449.0px;width:52.6px;padding-left:.9px">15-Nov-19</div>
<div class="c" style="left:528.1px;width:51.9px">15-Nov-19</div><div class="c" style="left:580.0px;width:53px;padding-left:.9px">15-Nov-19</div>
<div class="c" style="left:659.3px;width:51.7px">153.857</div><div class="c" style="left:711.0px;width:53px;padding-left:.9px">153.857</div>
<div class="cb" style="left:506.3px"></div><div class="ar" style="left:513.5px"></div>
<div class="cb" style="left:637.6px"></div><div class="ar" style="left:644.8px"></div>
<div class="cb" style="left:768.9px"></div><div class="ar" style="left:776.1px"></div>
</div>
<div class="r" style="top:377.13px">
<div class="c" style="left:28.8px;width:12.6px;">36</div>
<div class="c" style="left:41.9px;width:38.3px;">Reutlingen</div>
<div class="c" style="left:80.8px;width:48.2px;">Vacuum Shrink</div>
<div class="c" style="left:129.6px;width:50.7px;">SOR 450061389</div>
<div class="c" style="left:180.9px;width:51.1px;">X445490872</div>
<div class="c" style="left:232.5px;width:57.7px;">FlexShrink 2000 PET</div>
<div class="c" style="left:290.8px;width:54.4px;">Arber Verpackungstechnik</div>
<div class="c" style="left:345.8px;width:42.0px;text-align:right;padding-right:0.3px;">Y</div>
<div class="c" style="left:396.9px;width:52.1px">28-Dez-19</div><div class="c" style="left:449.0px;width:52.6px;padding-left:.9px">28-Dez-19</div>
<div class="c" style="left:528.1px;width:51.9px">1-Jan-20</div><div class="c" style="left:580.0px;width:53px;padding-left:.9px">1-Jan-20</div>
<div class="c" style="left:659.3px;width:51.7px">116.794</div><div class="c" style="left:711.0px;width:53px;padding-left:.9px">116.794</div>
<div class="cb" style="left:506.3px"></div><div class="ar" style="left:513.5px"></div>
<div class="cb" style="left:637.6px"></div><div class="ar" style="left:644.8px"></div>
<div class="cb" style="left:768.9px"></div><div class="ar" style="left:776.1px"></div>
</div>
<div class="r" style="top:384.6px">
<div class="c" style="left:28.8px;width:12.6px;">37</div>
<div class="c" style="left:41.9px;width:38.3px;">Reutlingen</div>
<div class="c" style="left:80.8px;width:48.2px;">Metal Strap</div>
<div class="c" style="left:129.6px;width:50.7px;">SOR 450061399</div>
<div class="c" style="left:180.9px;width:51.1px;">X456018268</div>
<div class="c" style="left:232.5px;width:57.7px;">ReelMaster 2200</div>
<div class="c" style="left:290.8px;width:54.4px;">A. Doorn Verpakkingstechniek</div>
<div class="c" style="left:345.8px;width:42.0px;text-align:right;padding-right:0.3px;">Y</div>
<div class="c" style="left:396.9px;width:52.1px">2-Jan-20</div><div class="c" style="left:449.0px;width:52.6px;padding-left:.9px">2-Jan-20</div>
<div class="c" style="left:528.1px;width:51.9px">3-Jan-20</div><div class="c" style="left:580.0px;width:53px;padding-left:.9px">3-Jan-20</div>
<div class="c" style="left:659.3px;width:51.7px">30.566</div><div class="c" style="left:711.0px;width:53px;padding-left:.9px">30.566</div>
<div class="cb" style="left:506.3px"></div><div class="ar" style="left:513.5px"></div>
<div class="cb" style="left:637.6px"></div><div class="ar" style="left:644.8px"></div>
<div class="cb" style="left:768.9px"></div><div class="ar" style="left:776.1px"></div>
</div>
<div class="r" style="top:392.07px">
<div class="c" style="left:28.8px;width:12.6px;">38</div>
<div class="c" style="left:41.9px;width:38.3px;">Reutlingen</div>
<div class="c" style="left:80.8px;width:48.2px;">Metal Strap</div>
<div class="c" style="left:129.6px;width:50.7px;">SOR 450061403</div>
<div class="c" style="left:180.9px;width:51.1px;">X463240855</div>
<div class="c" style="left:232.5px;width:57.7px;">StretchGripper 6/6</div>
<div class="c" style="left:290.8px;width:54.4px;">Liquitech Systeme - Pj. Ulm</div>
<div class="c" style="left:345.8px;width:42.0px;text-align:right;padding-right:0.3px;">Y</div>
<div class="c" style="left:396.9px;width:52.1px">21-Dez-19</div><div class="c" style="left:449.0px;width:52.6px;padding-left:.9px">21-Dez-19</div>
<div class="c" style="left:528.1px;width:51.9px">26-Dez-19</div><div class="c" style="left:580.0px;width:53px;padding-left:.9px">26-Dez-19</div>
<div class="c" style="left:659.3px;width:51.7px">4.964</div><div class="c" style="left:711.0px;width:53px;padding-left:.9px">4.964</div>
<div class="cb" style="left:506.3px"></div><div class="ar" style="left:513.5px"></div>
<div class="cb" style="left:637.6px"></div><div class="ar" style="left:644.8px"></div>
<div class="cb" style="left:768.9px"></div><div class="ar" style="left:776.1px"></div>
</div>
<div class="r" style="top:399.53px">
<div class="c" style="left:28.8px;width:12.6px;">39</div>
<div class="c" style="left:41.9px;width:38.3px;">Reutlingen</div>
<div class="c" style="left:80.8px;width:48.2px;">Metal Strap</div>
<div class="c" style="left:129.6px;width:50.7px;">SOR 450061409</div>
<div class="c" style="left:180.9px;width:51.1px;">X469421082</div>
<div class="c" style="left:232.5px;width:57.7px;">StretchGripper 2/6</div>
<div class="c" style="left:290.8px;width:54.4px;">Triex Pharma Technologies</div>
<div class="c" style="left:345.8px;width:42.0px;text-align:right;padding-right:0.3px;">Y</div>
<div class="c" style="left:396.9px;width:52.1px">27-Jan-20</div><div class="c" style="left:449.0px;width:52.6px;padding-left:.9px">27-Jan-20</div>
<div class="c" style="left:528.1px;width:51.9px">1-Feb-20</div><div class="c" style="left:580.0px;width:53px;padding-left:.9px">1-Feb-20</div>
<div class="c" style="left:659.3px;width:51.7px">4.073</div><div class="c" style="left:711.0px;width:53px;padding-left:.9px">4.073</div>
<div class="cb" style="left:506.3px"></div><div class="ar" style="left:513.5px"></div>
<div class="cb" style="left:637.6px"></div><div class="ar" style="left:644.8px"></div>
<div class="cb" style="left:768.9px"></div><div class="ar" style="left:776.1px"></div>
</div>
<div class="r" style="top:407.0px">
<div class="c" style="left:28.8px;width:12.6px;">40</div>
<div class="c" style="left:41.9px;width:38.3px;">Reutlingen</div>
<div class="c" style="left:80.8px;width:48.2px;">Vacuum Shrink</div>
<div class="c" style="left:129.6px;width:50.7px;">SOR 450061419</div>
<div class="c" style="left:180.9px;width:51.1px;">X473437746</div>
<div class="c" style="left:232.5px;width:57.7px;">StretchGripper 4/6</div>
<div class="c" style="left:290.8px;width:54.4px;">Stirling NL - Pj. Arnhem</div>
<div class="c" style="left:345.8px;width:42.0px;text-align:right;padding-right:0.3px;">Y</div>
<div class="c" style="left:396.9px;width:52.1px">15-Feb-20</div><div class="c" style="left:449.0px;width:52.6px;padding-left:.9px">15-Feb-20</div>
<div class="c" style="left:528.1px;width:51.9px">13-Feb-20</div><div class="c" style="left:580.0px;width:53px;padding-left:.9px">13-Feb-20</div>
<div class="c" style="left:659.3px;width:51.7px">148.953</div><div class="c" style="left:711.0px;width:53px;padding-left:.9px">148.953</div>
<div class="cb" style="left:506.3px"></div><div class="ar" style="left:513.5px"></div>
<div class="cb" style="left:637.6px"></div><div class="ar" style="left:644.8px"></div>
<div class="cb" style="left:768.9px"></div><div class="ar" style="left:776.1px"></div>
</div>
<div class="a" style="left:790.2px;top:68.3px;width:18.4px;height:340.7px;background:#f5f5f5"></div>
<div class="a" style="left:790.2px;top:68.3px;width:18.4px;height:7.2px;background:#ebebeb;border:.6px solid #fff;border-right-color:#8a8a8a;border-bottom-color:#8a8a8a"></div>
<svg class="a" style="left:797.6px;top:70.8px" width="3.4" height="2" viewBox="0 0 7 4"><path d="M0 4L3.5 0 7 4z" fill="#000"/></svg>
<div class="a" style="left:790.2px;top:75.5px;width:18.4px;height:54.2px;background:#ebebeb;border:.6px solid #fff;border-right-color:#8a8a8a;border-bottom-color:#8a8a8a"></div>
<div class="a" style="left:790.2px;top:401.6px;width:18.4px;height:7.4px;background:#ebebeb;border:.6px solid #fff;border-right-color:#8a8a8a;border-bottom-color:#8a8a8a"></div>
<svg class="a" style="left:797.6px;top:404.4px" width="3.4" height="2" viewBox="0 0 7 4"><path d="M0 0h7L3.5 4z" fill="#000"/></svg>
<div class="a" style="left:396.8px;top:427.8px;width:381.6px;height:17.8px;background:#f5f5f5"></div>
<div class="a" style="left:396.8px;top:427.8px;width:7.2px;height:17.8px;background:#ebebeb;border:.6px solid #fff;border-right-color:#8a8a8a;border-bottom-color:#8a8a8a"></div>
<svg class="a" style="left:399.4px;top:435.0px" width="2" height="3.4" viewBox="0 0 4 7"><path d="M4 0v7L0 3.5z" fill="#000"/></svg>
<div class="a" style="left:423px;top:427.8px;width:5.8px;height:17.8px;background:#111"></div>
<div class="a" style="left:771.2px;top:427.8px;width:7.2px;height:17.8px;background:#ebebeb;border:.6px solid #fff;border-right-color:#8a8a8a;border-bottom-color:#8a8a8a"></div>
<svg class="a" style="left:774px;top:435.0px" width="2" height="3.4" viewBox="0 0 4 7"><path d="M0 0v7l4-3.5z" fill="#000"/></svg>
<div class="btn" style="left:28.5px;width:80px">Apply All</div>
<div class="btn" style="left:115px;width:80px;background:#0b3864;border-color:#0b3864;color:#fff">Apply Selected</div>
<div class="btn" style="left:530.5px;width:51px">&lt;&lt;</div>
<div class="btn" style="left:584.5px;width:51px">&gt;&gt;</div>
</div>
</body></html>
